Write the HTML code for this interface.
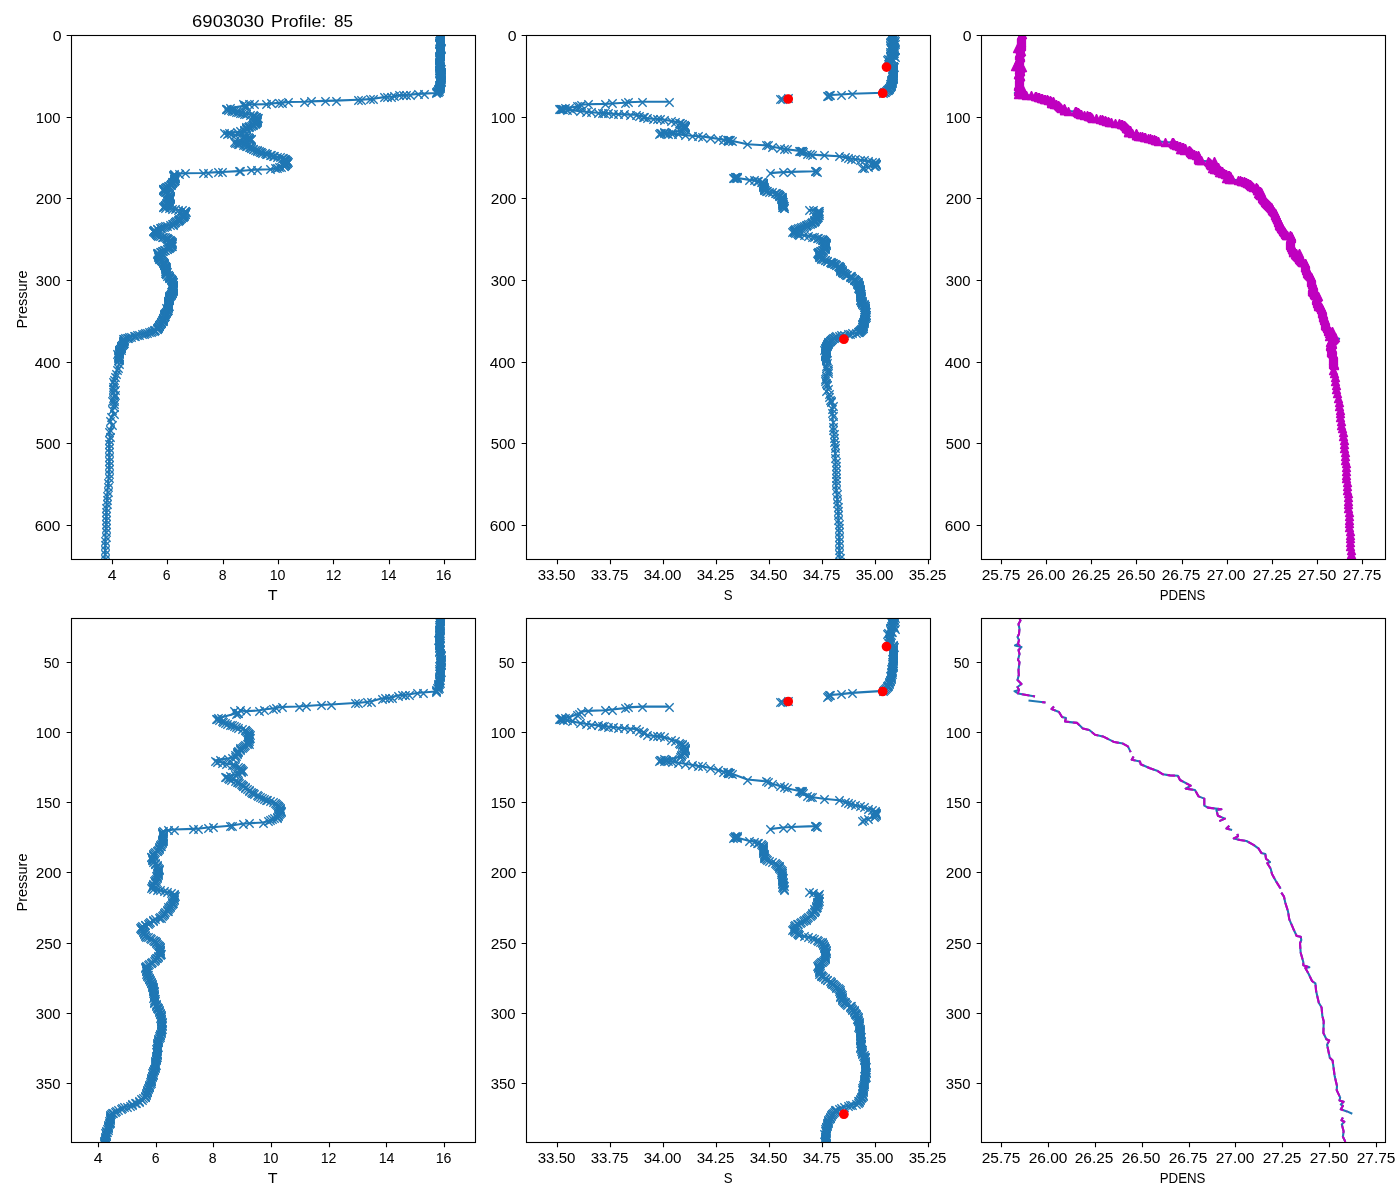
<!DOCTYPE html>
<html><head><meta charset="utf-8"><title>6903030 Profile: 85</title>
<style>html,body{margin:0;padding:0;background:#fff}body{width:1400px;height:1200px;overflow:hidden;font-family:"Liberation Sans",sans-serif}svg{display:block}</style></head>
<body>
<svg width="1400" height="1200" viewBox="0 0 1400 1200" font-family="'Liberation Sans', sans-serif" fill="#000">
<defs>
<marker id="mx" markerUnits="userSpaceOnUse" markerWidth="14" markerHeight="14" refX="7" refY="7" orient="0"><path d="M2.83,2.83L11.17,11.17M2.83,11.17L11.17,2.83" stroke="#1f77b4" stroke-width="1.39" fill="none"/></marker>
<marker id="mt" markerUnits="userSpaceOnUse" markerWidth="14" markerHeight="14" refX="7" refY="7" orient="0"><path d="M7,2.83L11.17,11.17L2.83,11.17Z" stroke="#bf00bf" stroke-width="1.2" fill="#bf00bf" stroke-linejoin="bevel"/></marker>
<clipPath id="kr1c1"><rect x="71.5" y="35.5" width="404.0" height="524.0"/></clipPath>
<clipPath id="kr2c1"><rect x="71.5" y="618.5" width="404.0" height="524.0"/></clipPath>
<clipPath id="kr1c2"><rect x="526.5" y="35.5" width="404.0" height="524.0"/></clipPath>
<clipPath id="kr2c2"><rect x="526.5" y="618.5" width="404.0" height="524.0"/></clipPath>
<clipPath id="kr1c3"><rect x="981.5" y="35.5" width="404.0" height="524.0"/></clipPath>
<clipPath id="kr2c3"><rect x="981.5" y="618.5" width="404.0" height="524.0"/></clipPath>
</defs>
<rect width="1400" height="1200" fill="#fff"/>
<g clip-path="url(#kr1c1)">
<polyline fill="none" stroke="#1f77b4" stroke-width="2.08" stroke-linejoin="round" points="439.6,34.2 439.5,34.7 439.8,35.2 439.5,35.7 439.5,36.2 439.2,36.7 439.6,37.2 440.2,37.7 439.9,38.2 440.2,38.7 439.8,39.2 439.9,39.7 439.8,40.2 439.0,40.7 440.2,41.2 440.0,41.7 440.0,42.2 439.1,42.7 439.1,43.2 439.5,43.7 439.7,44.2 440.0,44.7 439.9,45.2 440.2,45.7 439.7,46.2 440.1,46.7 440.2,47.2 439.7,47.7 440.8,48.2 440.3,48.7 440.6,49.2 439.8,49.7 439.8,50.2 440.0,50.2 440.1,50.7 440.4,51.2 440.2,51.7 439.8,52.2 439.6,52.6 439.7,53.1 440.4,53.6 439.5,54.1 439.9,54.6 440.0,55.0 439.1,55.5 439.7,56.0 440.3,56.5 438.8,57.0 439.5,57.4 439.5,57.9 439.2,58.4 439.7,58.9 439.4,59.4 438.8,59.9 439.8,60.3 439.6,60.8 439.7,61.3 439.9,61.8 439.4,62.3 439.3,62.7 438.7,63.2 439.6,63.7 439.1,64.2 439.2,64.7 438.9,65.2 439.1,65.6 439.4,66.1 440.3,66.6 438.8,67.1 439.2,67.6 440.0,68.1 440.6,68.6 440.2,69.0 439.2,69.5 439.1,70.0 440.3,70.5 439.9,71.0 439.8,71.5 440.8,72.0 440.9,72.4 440.5,72.9 440.6,73.4 440.8,73.9 441.4,74.4 440.9,74.9 440.8,75.3 440.8,75.8 439.8,76.3 441.0,76.8 440.8,77.3 440.6,77.8 439.4,78.3 440.0,78.7 440.6,79.2 439.4,79.7 440.1,80.2 440.6,80.7 439.5,81.2 440.8,81.7 440.2,82.1 439.9,82.6 440.1,83.1 440.2,83.6 439.9,84.1 440.3,84.6 439.5,85.0 439.5,85.5 440.1,86.0 439.6,86.5 439.0,86.9 439.7,87.4 439.8,87.9 438.8,88.3 438.2,88.8 438.6,89.3 438.5,89.7 438.3,90.2 438.9,90.7 437.4,91.1 438.1,91.5 436.6,92.0 436.5,92.4 435.8,93.0 423.9,93.6 418.1,93.9 409.9,94.7 406.1,95.0 403.2,95.0 399.4,95.3 393.6,96.5 390.7,96.8 386.9,96.8 384.0,97.1 373.5,98.8 369.6,99.1 361.0,99.7 358.1,99.7 335.6,100.6 325.5,100.9 311.1,101.4 304.4,101.7 288.1,102.0 282.3,102.6 279.4,102.9 270.8,103.5 266.0,104.1 253.5,104.5 248.5,103.9 246.0,105.8 246.3,105.6 245.2,105.5 243.0,104.2 243.9,105.8 230.0,108.1 227.4,108.7 225.7,108.9 225.5,109.2 227.6,109.5 230.6,110.2 232.3,110.7 234.1,111.2 235.9,111.7 238.3,112.2 240.4,112.6 242.0,113.1 244.3,113.5 246.1,114.0 250.1,114.5 252.7,115.1 253.2,115.6 253.9,116.0 254.9,116.5 256.1,117.0 256.3,117.4 256.8,117.9 257.6,118.4 256.0,118.8 256.7,119.3 257.5,119.8 257.3,120.3 256.9,120.8 256.4,121.3 256.6,121.8 256.1,122.3 255.5,122.8 256.4,123.3 254.6,123.7 253.3,124.2 252.5,124.7 251.5,125.1 250.6,125.6 248.7,126.1 248.5,126.5 248.2,127.0 246.3,127.5 245.8,127.9 246.0,128.4 245.6,128.9 245.6,129.4 243.8,129.9 244.1,130.3 243.8,130.8 240.4,131.4 236.7,132.0 229.0,132.6 224.3,133.2 226.5,133.7 230.8,134.3 234.6,134.9 240.2,135.5 242.5,135.9 243.9,136.4 245.9,136.8 248.1,137.2 248.6,137.7 249.2,138.1 250.6,138.5 251.1,139.0 249.2,139.4 248.9,139.9 246.1,140.4 245.7,140.8 243.8,141.3 238.7,141.9 233.7,142.5 235.2,142.9 237.0,143.3 237.7,143.8 239.4,144.2 243.3,144.8 245.4,145.4 246.4,145.8 247.1,146.3 249.3,146.8 250.0,147.2 251.3,147.7 251.3,148.2 252.8,148.7 253.4,149.2 255.3,149.7 256.8,150.2 256.7,150.8 258.9,151.3 259.7,151.8 260.9,152.3 261.8,152.8 265.0,153.3 266.0,153.8 267.4,154.3 269.5,154.8 271.2,155.3 273.4,155.9 274.4,156.4 277.5,156.9 279.7,157.4 281.8,157.9 283.2,158.5 283.5,158.9 284.9,159.4 285.1,159.9 285.7,160.4 286.9,160.8 286.8,161.3 286.5,161.8 287.9,162.3 286.7,162.8 287.2,163.3 286.4,163.8 285.4,164.3 285.1,164.8 284.8,165.3 283.9,165.8 283.9,166.3 281.1,166.8 279.4,167.3 277.5,167.9 275.4,168.4 270.3,169.2 257.1,169.6 250.7,170.0 240.1,171.0 238.7,171.1 221.9,172.0 217.6,172.1 207.8,172.8 203.3,173.0 184.7,173.3 179.0,173.8 174.3,174.3 173.2,174.8 173.6,175.3 173.4,175.8 174.8,176.3 173.9,176.8 174.6,177.3 174.6,177.8 174.8,178.3 174.3,178.8 174.4,179.3 174.8,179.8 173.7,180.2 173.6,180.7 173.5,181.2 172.7,181.7 171.9,182.2 171.9,182.6 172.4,183.1 170.9,183.6 170.6,184.1 170.5,184.6 169.7,185.1 168.6,185.6 168.2,186.1 167.2,186.6 165.8,187.1 164.9,187.5 164.6,188.0 164.5,188.5 163.1,189.0 163.2,189.5 163.5,189.9 163.4,190.3 164.2,190.8 164.4,191.3 165.7,191.7 165.2,192.2 166.9,192.7 167.1,193.2 167.1,193.7 168.9,194.1 169.1,194.6 168.8,195.1 170.0,195.6 170.4,196.1 169.8,196.6 170.2,197.1 170.0,197.6 169.8,198.1 169.4,198.6 169.7,199.1 169.2,199.6 168.9,200.1 167.6,200.6 168.7,201.1 168.7,201.6 167.6,202.1 167.1,202.5 167.7,203.0 165.7,203.5 166.2,203.9 166.6,204.4 164.8,204.9 165.1,205.3 165.2,205.8 163.9,206.2 163.4,206.7 162.8,207.2 165.1,207.7 168.6,208.2 171.9,208.7 175.2,209.2 178.5,209.8 182.1,210.3 185.3,210.9 185.4,211.4 185.7,211.9 185.1,212.4 184.5,212.9 184.3,213.3 185.4,213.8 184.7,214.3 184.2,214.8 182.7,215.3 183.8,215.8 183.2,216.3 183.2,216.7 182.1,217.2 181.3,217.7 181.0,218.1 179.4,218.6 180.2,219.1 179.3,219.5 178.3,220.0 178.7,220.4 178.1,221.0 175.9,221.5 175.4,222.0 175.0,222.5 174.1,223.0 173.0,223.5 172.0,224.0 172.5,224.5 170.1,225.1 167.1,225.6 165.1,226.1 164.4,226.7 162.1,227.2 161.2,227.7 159.5,228.1 157.5,228.6 156.7,229.1 154.4,229.6 153.7,230.0 152.8,230.5 153.5,231.0 153.4,231.4 154.1,231.9 154.8,232.4 155.2,232.8 155.8,233.3 156.0,233.8 156.2,234.2 157.2,234.7 157.3,235.2 158.4,235.6 160.0,236.1 161.8,236.5 163.2,237.0 164.8,237.5 166.2,237.9 167.0,238.4 167.5,238.9 167.7,239.4 169.1,239.9 170.0,240.3 170.4,240.8 170.8,241.3 171.8,241.8 171.2,242.3 170.7,242.7 171.6,243.2 171.2,243.7 171.9,244.1 171.1,244.6 170.6,245.1 171.1,245.5 172.3,246.0 171.4,246.5 170.0,246.9 169.4,247.4 169.0,247.9 168.0,248.4 166.9,248.8 166.6,249.3 165.3,249.8 163.9,250.2 163.0,250.7 162.4,251.2 161.0,251.6 159.9,252.1 157.9,252.6 157.2,253.0 157.7,253.5 157.4,254.0 158.1,254.4 158.1,254.9 158.3,255.4 157.9,255.8 159.1,256.3 158.8,256.8 158.3,257.2 158.6,257.7 159.9,258.2 159.2,258.6 160.2,259.1 160.7,259.6 160.7,260.0 160.6,260.5 161.6,261.0 162.1,261.4 162.8,261.9 163.1,262.3 163.1,262.8 163.7,263.3 163.9,263.7 164.0,264.2 164.3,264.7 164.4,265.1 165.1,265.6 164.7,266.1 165.2,266.5 165.7,267.0 165.1,267.5 165.5,268.0 164.8,268.5 165.4,269.0 166.0,269.5 166.0,270.0 165.7,270.5 165.6,270.9 165.1,271.4 166.5,271.9 166.0,272.4 166.2,272.9 165.3,273.4 166.1,273.9 165.9,274.4 167.5,274.9 168.1,275.4 167.3,275.9 168.6,276.5 169.4,277.0 168.8,277.5 169.2,278.0 170.1,278.5 170.7,279.0 170.5,279.5 171.3,280.0 171.6,280.4 171.9,280.9 172.1,281.4 172.6,281.9 172.6,282.4 171.7,282.8 172.2,283.3 172.1,283.8 172.2,284.3 172.8,284.8 173.0,285.2 173.4,285.7 172.6,286.2 172.7,286.7 173.2,287.2 173.0,287.7 172.9,288.2 172.9,288.7 172.5,289.2 173.1,289.7 172.9,290.1 172.6,290.6 172.3,291.1 172.4,291.6 171.5,292.1 171.9,292.6 172.0,293.1 170.9,293.6 171.2,294.1 170.8,294.6 169.7,295.2 169.8,295.7 169.4,296.2 169.3,296.7 169.3,297.2 169.0,297.7 168.6,298.2 168.8,298.7 168.8,299.2 169.1,299.7 168.9,300.2 168.4,300.7 168.1,301.2 168.4,301.7 168.2,302.2 168.0,302.7 168.4,303.2 168.2,303.7 168.3,304.2 168.4,304.7 167.8,305.1 168.9,305.6 167.6,306.1 168.1,306.6 167.5,307.1 167.9,307.6 166.2,308.1 166.8,308.6 167.1,309.1 167.1,309.6 167.7,310.1 166.6,310.6 166.8,311.1 166.4,311.5 166.2,312.0 165.8,312.5 165.3,313.0 165.4,313.5 164.4,314.0 165.2,314.5 164.0,315.0 164.4,315.5 165.0,316.0 163.7,316.5 163.6,317.0 163.9,317.5 163.2,317.9 162.6,318.4 162.8,318.9 162.7,319.4 162.6,319.9 161.7,320.4 162.6,320.9 162.3,321.4 161.4,321.9 161.3,322.4 160.7,322.9 161.3,323.4 160.0,323.8 160.3,324.3 159.5,324.8 159.1,325.3 159.4,325.8 159.3,326.3 158.4,326.7 157.8,327.2 158.2,327.7 157.5,328.2 157.3,328.7 156.8,329.2 155.5,329.7 153.7,330.2 153.8,330.7 151.7,331.3 150.9,331.8 148.5,332.2 147.0,332.7 144.5,333.1 144.3,333.6 142.4,334.1 139.5,334.5 137.2,335.0 135.1,335.5 134.2,336.0 131.4,336.5 129.4,337.0 128.0,337.5 126.8,338.0 125.0,338.5 124.2,339.0 123.4,339.5 123.9,340.0 123.9,340.4 123.9,340.9 123.5,341.4 123.0,341.9 123.4,342.4 123.0,342.9 123.8,343.3 123.3,343.8 122.6,344.3 122.2,344.8 121.8,345.3 121.4,345.7 121.4,346.2 121.5,346.7 121.3,347.2 121.0,347.6 121.5,348.1 119.9,348.6 120.1,349.1 120.9,349.5 118.9,350.0 119.3,350.5 119.5,351.0 119.3,351.4 119.3,351.9 118.8,352.4 118.9,352.9 118.6,353.3 118.7,353.8 117.4,354.3 118.0,354.9 118.6,355.5 118.1,356.0 118.1,356.5 118.8,357.0 118.2,357.5 118.8,358.1 118.8,358.6 118.6,359.1 118.6,359.6 118.4,360.1 118.8,364.0 117.7,367.5 117.1,370.0 115.7,373.5 114.9,376.7 113.8,380.4 112.6,382.4 114.0,384.1 113.5,386.9 112.8,388.8 114.9,390.0 113.4,392.3 114.5,394.6 114.0,396.0 113.3,398.4 111.9,401.4 114.0,401.3 113.9,404.4 113.7,406.7 111.7,410.2 113.6,413.7 111.0,416.6 110.2,421.2 111.9,424.7 110.4,429.9 109.5,432.0 109.9,436.9 109.2,440.1 108.9,443.8 109.0,448.0 109.1,452.3 109.2,456.5 109.1,460.8 109.0,465.1 109.0,469.5 108.9,473.8 108.5,478.4 108.2,482.9 107.8,487.5 107.5,491.5 107.2,495.5 106.9,499.5 106.6,503.5 106.5,507.5 106.3,511.5 106.2,515.5 106.1,519.5 105.9,523.8 105.8,528.0 105.7,532.2 105.5,536.5 105.3,540.9 105.2,545.3 105.0,549.7 104.9,554.1 104.7,558.5 104.6,562.5 104.5,566.5"/><polyline fill="none" stroke="none" marker-start="url(#mx)" marker-mid="url(#mx)" marker-end="url(#mx)" points="440.5,34.5 439.5,35.5 440.5,35.5 440.5,36.5 439.5,36.5 439.5,37.5 440.5,37.5 440.5,38.5 440.5,38.5 440.5,39.5 440.5,39.5 440.5,40.5 440.5,40.5 439.5,41.5 440.5,41.5 440.5,42.5 440.5,42.5 439.5,43.5 439.5,43.5 439.5,44.5 440.5,44.5 440.5,45.5 440.5,45.5 440.5,46.5 440.5,46.5 440.5,47.5 440.5,47.5 440.5,48.5 441.5,48.5 440.5,49.5 441.5,49.5 440.5,50.5 440.5,50.5 440.5,50.5 440.5,51.5 440.5,51.5 440.5,52.5 440.5,52.5 440.5,53.5 440.5,53.5 440.5,54.5 440.5,54.5 440.5,55.5 440.5,55.5 439.5,56.5 440.5,56.5 440.5,56.5 439.5,57.5 439.5,57.5 440.5,58.5 439.5,58.5 440.5,59.5 439.5,59.5 439.5,60.5 440.5,60.5 440.5,61.5 440.5,61.5 440.5,62.5 439.5,62.5 439.5,63.5 439.5,63.5 440.5,64.5 439.5,64.5 439.5,65.5 439.5,65.5 439.5,66.5 439.5,66.5 440.5,67.5 439.5,67.5 439.5,68.5 440.5,68.5 441.5,69.5 440.5,69.5 439.5,70.5 439.5,70.5 440.5,70.5 440.5,71.5 440.5,71.5 441.5,72.5 441.5,72.5 441.5,73.5 441.5,73.5 441.5,74.5 441.5,74.5 441.5,75.5 441.5,75.5 441.5,76.5 440.5,76.5 441.5,77.5 441.5,77.5 441.5,78.5 439.5,78.5 440.5,79.5 441.5,79.5 439.5,80.5 440.5,80.5 441.5,81.5 439.5,81.5 441.5,82.5 440.5,82.5 440.5,83.5 440.5,83.5 440.5,84.5 440.5,84.5 440.5,85.5 439.5,85.5 440.5,86.5 440.5,86.5 440.5,86.5 439.5,87.5 440.5,87.5 440.5,88.5 439.5,88.5 438.5,89.5 439.5,89.5 438.5,90.5 438.5,90.5 439.5,91.5 437.5,91.5 438.5,92.5 437.5,92.5 436.5,92.5 436.5,93.5 424.5,94.5 418.5,94.5 410.5,95.5 406.5,95.5 403.5,95.5 399.5,95.5 394.5,96.5 391.5,97.5 387.5,97.5 384.5,97.5 373.5,99.5 370.5,99.5 361.5,100.5 358.5,100.5 336.5,101.5 325.5,101.5 311.5,101.5 304.5,102.5 288.5,102.5 282.5,103.5 279.5,103.5 271.5,103.5 266.5,104.5 254.5,104.5 249.5,104.5 246.5,106.5 246.5,106.5 245.5,105.5 243.5,104.5 244.5,106.5 230.5,108.5 227.5,109.5 226.5,109.5 226.5,109.5 228.5,110.5 231.5,110.5 232.5,111.5 234.5,111.5 236.5,112.5 238.5,112.5 240.5,113.5 242.5,113.5 244.5,114.5 246.5,114.5 250.5,115.5 253.5,115.5 253.5,116.5 254.5,116.5 255.5,117.5 256.5,117.5 256.5,117.5 257.5,118.5 258.5,118.5 256.5,119.5 257.5,119.5 257.5,120.5 257.5,120.5 257.5,121.5 256.5,121.5 257.5,122.5 256.5,122.5 255.5,123.5 256.5,123.5 255.5,124.5 253.5,124.5 253.5,125.5 252.5,125.5 251.5,126.5 249.5,126.5 249.5,127.5 248.5,127.5 246.5,127.5 246.5,128.5 246.5,128.5 246.5,129.5 246.5,129.5 244.5,130.5 244.5,130.5 244.5,131.5 240.5,131.5 237.5,132.5 229.5,133.5 224.5,133.5 227.5,134.5 231.5,134.5 235.5,135.5 240.5,135.5 243.5,136.5 244.5,136.5 246.5,137.5 248.5,137.5 249.5,138.5 249.5,138.5 251.5,139.5 251.5,139.5 249.5,139.5 249.5,140.5 246.5,140.5 246.5,141.5 244.5,141.5 239.5,142.5 234.5,142.5 235.5,143.5 237.5,143.5 238.5,144.5 239.5,144.5 243.5,145.5 245.5,145.5 246.5,146.5 247.5,146.5 249.5,147.5 250.5,147.5 251.5,148.5 251.5,148.5 253.5,149.5 253.5,149.5 255.5,150.5 257.5,150.5 257.5,151.5 259.5,151.5 260.5,152.5 261.5,152.5 262.5,153.5 265.5,153.5 266.5,154.5 267.5,154.5 270.5,155.5 271.5,155.5 273.5,156.5 274.5,156.5 277.5,157.5 280.5,157.5 282.5,158.5 283.5,158.5 284.5,159.5 285.5,159.5 285.5,160.5 286.5,160.5 287.5,161.5 287.5,161.5 286.5,162.5 288.5,162.5 287.5,163.5 287.5,163.5 286.5,164.5 285.5,164.5 285.5,165.5 285.5,165.5 284.5,166.5 284.5,166.5 281.5,167.5 279.5,167.5 277.5,168.5 275.5,168.5 270.5,169.5 257.5,170.5 251.5,170.5 240.5,171.5 239.5,171.5 222.5,172.5 218.5,172.5 208.5,173.5 203.5,173.5 185.5,173.5 179.5,174.5 174.5,174.5 173.5,175.5 174.5,175.5 173.5,176.5 175.5,176.5 174.5,177.5 175.5,177.5 175.5,178.5 175.5,178.5 174.5,179.5 174.5,179.5 175.5,180.5 174.5,180.5 174.5,181.5 174.5,181.5 173.5,182.5 172.5,182.5 172.5,183.5 172.5,183.5 171.5,184.5 171.5,184.5 171.5,185.5 170.5,185.5 169.5,186.5 168.5,186.5 167.5,187.5 166.5,187.5 165.5,188.5 165.5,188.5 164.5,189.5 163.5,189.5 163.5,189.5 163.5,190.5 163.5,190.5 164.5,191.5 164.5,191.5 166.5,192.5 165.5,192.5 167.5,193.5 167.5,193.5 167.5,194.5 169.5,194.5 169.5,195.5 169.5,195.5 170.5,196.5 170.5,196.5 170.5,197.5 170.5,197.5 170.5,198.5 170.5,198.5 169.5,199.5 170.5,199.5 169.5,200.5 169.5,200.5 168.5,201.5 169.5,201.5 169.5,202.5 168.5,202.5 167.5,203.5 168.5,203.5 166.5,203.5 166.5,204.5 167.5,204.5 165.5,205.5 165.5,205.5 165.5,206.5 164.5,206.5 163.5,207.5 163.5,207.5 165.5,208.5 169.5,208.5 172.5,209.5 175.5,209.5 178.5,210.5 182.5,210.5 185.5,211.5 185.5,211.5 186.5,212.5 185.5,212.5 184.5,213.5 184.5,213.5 185.5,214.5 185.5,214.5 184.5,215.5 183.5,215.5 184.5,216.5 183.5,216.5 183.5,217.5 182.5,217.5 181.5,218.5 181.5,218.5 179.5,219.5 180.5,219.5 179.5,220.5 178.5,220.5 179.5,220.5 178.5,221.5 176.5,221.5 175.5,222.5 175.5,222.5 174.5,223.5 173.5,224.5 172.5,224.5 173.5,225.5 170.5,225.5 167.5,226.5 165.5,226.5 164.5,227.5 162.5,227.5 161.5,228.5 160.5,228.5 157.5,229.5 157.5,229.5 154.5,230.5 154.5,230.5 153.5,231.5 153.5,231.5 153.5,231.5 154.5,232.5 155.5,232.5 155.5,233.5 156.5,233.5 156.5,234.5 156.5,234.5 157.5,235.5 157.5,235.5 158.5,236.5 160.5,236.5 162.5,237.5 163.5,237.5 165.5,237.5 166.5,238.5 167.5,238.5 167.5,239.5 168.5,239.5 169.5,240.5 170.5,240.5 170.5,241.5 171.5,241.5 172.5,242.5 171.5,242.5 171.5,243.5 172.5,243.5 171.5,244.5 172.5,244.5 171.5,245.5 171.5,245.5 171.5,246.5 172.5,246.5 171.5,246.5 170.5,247.5 169.5,247.5 169.5,248.5 168.5,248.5 167.5,249.5 167.5,249.5 165.5,250.5 164.5,250.5 163.5,251.5 162.5,251.5 161.5,252.5 160.5,252.5 158.5,253.5 157.5,253.5 158.5,254.5 157.5,254.5 158.5,254.5 158.5,255.5 158.5,255.5 158.5,256.5 159.5,256.5 159.5,257.5 158.5,257.5 159.5,258.5 160.5,258.5 159.5,259.5 160.5,259.5 161.5,260.5 161.5,260.5 161.5,260.5 162.5,261.5 162.5,261.5 163.5,262.5 163.5,262.5 163.5,263.5 164.5,263.5 164.5,264.5 164.5,264.5 164.5,265.5 164.5,265.5 165.5,266.5 165.5,266.5 165.5,267.5 166.5,267.5 165.5,267.5 166.5,268.5 165.5,268.5 165.5,269.5 166.5,269.5 166.5,270.5 166.5,270.5 166.5,271.5 165.5,271.5 167.5,272.5 166.5,272.5 166.5,273.5 165.5,273.5 166.5,274.5 166.5,274.5 168.5,275.5 168.5,275.5 167.5,276.5 169.5,276.5 169.5,277.5 169.5,277.5 169.5,278.5 170.5,278.5 171.5,279.5 171.5,279.5 171.5,280.5 172.5,280.5 172.5,281.5 172.5,281.5 173.5,282.5 173.5,282.5 172.5,283.5 172.5,283.5 172.5,284.5 172.5,284.5 173.5,285.5 173.5,285.5 173.5,286.5 173.5,286.5 173.5,287.5 173.5,287.5 173.5,288.5 173.5,288.5 173.5,289.5 173.5,289.5 173.5,290.5 173.5,290.5 173.5,291.5 172.5,291.5 172.5,292.5 171.5,292.5 172.5,293.5 172.5,293.5 171.5,294.5 171.5,294.5 171.5,295.5 170.5,295.5 170.5,296.5 169.5,296.5 169.5,297.5 169.5,297.5 169.5,298.5 169.5,298.5 169.5,299.5 169.5,299.5 169.5,300.5 169.5,300.5 168.5,301.5 168.5,301.5 168.5,302.5 168.5,302.5 168.5,303.5 168.5,303.5 168.5,304.5 168.5,304.5 168.5,305.5 168.5,305.5 169.5,306.5 168.5,306.5 168.5,307.5 168.5,307.5 168.5,308.5 166.5,308.5 167.5,309.5 167.5,309.5 167.5,310.5 168.5,310.5 167.5,311.5 167.5,311.5 166.5,312.5 166.5,312.5 166.5,313.5 165.5,313.5 165.5,314.5 164.5,314.5 165.5,314.5 164.5,315.5 164.5,315.5 165.5,316.5 164.5,316.5 164.5,317.5 164.5,317.5 163.5,318.5 163.5,318.5 163.5,319.5 163.5,319.5 163.5,320.5 162.5,320.5 163.5,321.5 162.5,321.5 161.5,322.5 161.5,322.5 161.5,323.5 161.5,323.5 160.5,324.5 160.5,324.5 159.5,325.5 159.5,325.5 159.5,326.5 159.5,326.5 158.5,327.5 158.5,327.5 158.5,328.5 157.5,328.5 157.5,329.5 157.5,329.5 155.5,330.5 154.5,330.5 154.5,331.5 152.5,331.5 151.5,332.5 149.5,332.5 147.5,333.5 145.5,333.5 144.5,334.5 142.5,334.5 139.5,335.5 137.5,335.5 135.5,336.5 134.5,336.5 131.5,337.5 129.5,337.5 128.5,338.5 127.5,338.5 125.5,338.5 124.5,339.5 123.5,339.5 124.5,340.5 124.5,340.5 124.5,341.5 123.5,341.5 123.5,342.5 123.5,342.5 123.5,343.5 124.5,343.5 123.5,344.5 123.5,344.5 122.5,345.5 122.5,345.5 121.5,346.5 121.5,346.5 121.5,347.5 121.5,347.5 121.5,348.5 121.5,348.5 120.5,349.5 120.5,349.5 121.5,350.5 119.5,350.5 119.5,350.5 119.5,351.5 119.5,351.5 119.5,352.5 119.5,352.5 119.5,353.5 119.5,353.5 119.5,354.5 117.5,354.5 118.5,355.5 119.5,356.5 118.5,356.5 118.5,357.5 119.5,357.5 118.5,358.5 119.5,358.5 119.5,359.5 119.5,359.5 119.5,360.5 118.5,360.5 119.5,364.5 118.5,368.5 117.5,370.5 116.5,374.5 115.5,377.5 114.5,380.5 113.5,382.5 114.5,384.5 113.5,387.5 113.5,389.5 115.5,390.5 113.5,392.5 115.5,395.5 114.5,396.5 113.5,398.5 112.5,401.5 114.5,401.5 114.5,404.5 114.5,407.5 112.5,410.5 114.5,414.5 111.5,417.5 110.5,421.5 112.5,425.5 110.5,430.5 109.5,432.5 110.5,437.5 109.5,440.5 109.5,444.5 109.5,448.5 109.5,452.5 109.5,457.5 109.5,461.5 109.5,465.5 109.5,469.5 109.5,474.5 109.5,478.5 108.5,483.5 108.5,487.5 108.5,492.5 107.5,496.5 107.5,500.5 107.5,504.5 106.5,508.5 106.5,512.5 106.5,516.5 106.5,520.5 106.5,524.5 106.5,528.5 106.5,532.5 106.5,537.5 105.5,541.5 105.5,545.5 105.5,550.5 105.5,554.5 105.5,559.5 105.5,563.5 105.5,567.5"/>
</g>
<g clip-path="url(#kr2c1)">
<polyline fill="none" stroke="#1f77b4" stroke-width="2.08" stroke-linejoin="round" points="439.4,590.4 439.3,591.3 439.7,592.1 439.3,593.0 439.3,593.9 439.0,594.7 439.4,595.6 440.0,596.4 439.7,597.3 440.0,598.1 439.7,599.0 439.7,599.9 439.7,600.7 438.8,601.6 440.0,602.4 439.9,603.3 439.9,604.2 438.9,605.0 438.9,605.9 439.3,606.7 439.5,607.6 439.9,608.5 439.7,609.3 440.0,610.2 439.5,611.0 440.0,611.9 440.0,612.8 439.6,613.6 440.7,614.5 440.2,615.3 440.5,616.2 439.7,617.1 439.6,617.9 439.8,618.0 439.9,618.8 440.2,619.7 440.0,620.5 439.6,621.3 439.4,622.1 439.5,623.0 440.3,623.8 439.3,624.6 439.8,625.4 439.8,626.3 438.9,627.1 439.6,627.9 440.1,628.8 438.5,629.6 439.3,630.4 439.3,631.2 439.0,632.1 439.5,632.9 439.2,633.7 438.6,634.5 439.6,635.4 439.5,636.2 439.6,637.0 439.7,637.8 439.2,638.7 439.1,639.5 438.5,640.3 439.4,641.2 438.9,642.0 439.0,642.8 438.7,643.7 438.9,644.5 439.2,645.3 440.1,646.2 438.6,647.0 438.9,647.8 439.8,648.7 440.4,649.5 440.1,650.3 439.0,651.2 438.9,652.0 440.2,652.8 439.7,653.7 439.6,654.5 440.6,655.3 440.8,656.2 440.4,657.0 440.5,657.8 440.6,658.7 441.2,659.5 440.7,660.3 440.7,661.2 440.6,662.0 439.6,662.8 440.9,663.7 440.7,664.5 440.5,665.3 439.3,666.2 439.8,667.0 440.5,667.8 439.2,668.7 439.9,669.5 440.4,670.3 439.3,671.2 440.6,672.0 440.1,672.8 439.7,673.7 439.9,674.5 440.0,675.3 439.7,676.2 440.2,677.0 439.3,677.8 439.3,678.7 440.0,679.5 439.4,680.3 438.8,681.1 439.5,681.9 439.6,682.7 438.5,683.5 438.0,684.3 438.4,685.1 438.2,685.9 438.0,686.7 438.7,687.5 437.1,688.2 437.8,689.0 436.3,689.8 436.1,690.5 435.5,691.5 423.0,692.5 417.0,693.0 408.5,694.5 404.5,695.0 401.5,695.0 397.5,695.5 391.5,697.5 388.5,698.0 384.5,698.0 381.5,698.5 370.5,701.5 366.5,702.0 357.5,703.0 354.5,703.0 331.0,704.5 320.5,705.0 305.5,706.0 298.5,706.5 281.5,707.0 275.5,708.0 272.5,708.5 263.5,709.5 258.5,710.5 245.5,711.2 240.3,710.3 237.6,713.5 237.9,713.1 236.8,712.9 234.5,710.8 235.5,713.5 221.0,717.5 218.3,718.4 216.5,718.8 216.3,719.4 218.5,719.9 221.6,721.0 223.3,721.9 225.3,722.8 227.2,723.6 229.6,724.5 231.8,725.2 233.5,726.0 235.9,726.8 237.8,727.5 241.9,728.5 244.7,729.5 245.1,730.3 245.9,731.1 246.9,731.9 248.1,732.7 248.3,733.5 248.9,734.3 249.8,735.1 248.1,735.9 248.8,736.7 249.6,737.5 249.4,738.4 249.0,739.2 248.4,740.1 248.7,740.9 248.2,741.8 247.5,742.6 248.5,743.5 246.7,744.3 245.2,745.1 244.5,745.9 243.4,746.7 242.5,747.5 240.5,748.3 240.3,749.1 240.0,749.9 238.0,750.7 237.5,751.5 237.6,752.3 237.2,753.2 237.2,754.0 235.4,754.8 235.7,755.7 235.3,756.5 231.8,757.5 228.0,758.5 220.0,759.5 215.0,760.5 217.3,761.5 221.8,762.5 225.8,763.5 231.6,764.5 234.1,765.2 235.4,766.0 237.6,766.8 239.9,767.5 240.3,768.2 241.0,769.0 242.5,769.8 243.0,770.5 241.0,771.3 240.7,772.1 237.8,772.9 237.3,773.7 235.4,774.5 230.1,775.5 224.8,776.5 226.4,777.2 228.3,778.0 229.0,778.8 230.8,779.5 234.8,780.5 237.1,781.5 238.0,782.3 238.8,783.1 241.1,783.9 241.8,784.7 243.2,785.5 243.2,786.4 244.8,787.2 245.3,788.1 247.4,789.0 248.9,789.9 248.8,790.8 251.1,791.6 252.0,792.5 253.2,793.4 254.1,794.2 257.4,795.1 258.5,796.0 260.0,796.9 262.2,797.8 263.9,798.6 266.2,799.5 267.2,800.4 270.4,801.3 272.8,802.2 275.0,803.1 276.4,804.0 276.8,804.8 278.2,805.6 278.4,806.4 279.1,807.2 280.3,808.1 280.1,808.9 279.9,809.7 281.3,810.5 280.0,811.4 280.6,812.2 279.8,813.1 278.7,814.0 278.4,814.9 278.1,815.8 277.2,816.6 277.1,817.5 274.2,818.4 272.5,819.2 270.4,820.1 268.2,821.0 263.0,822.5 249.2,823.2 242.5,823.8 231.5,825.5 230.0,825.7 212.5,827.2 208.1,827.5 197.8,828.7 193.2,828.9 173.8,829.5 167.8,830.4 162.9,831.2 161.8,832.1 162.2,832.9 162.0,833.8 163.5,834.7 162.6,835.5 163.2,836.4 163.3,837.2 163.5,838.1 162.9,838.9 163.0,839.8 163.4,840.6 162.3,841.4 162.2,842.2 162.1,843.1 161.2,843.9 160.4,844.7 160.5,845.5 160.9,846.4 159.3,847.2 159.0,848.0 159.0,848.9 158.1,849.7 157.0,850.6 156.6,851.4 155.5,852.3 154.1,853.1 153.1,854.0 152.8,854.8 152.7,855.7 151.2,856.5 151.3,857.2 151.6,858.0 151.5,858.8 152.4,859.5 152.6,860.3 153.9,861.2 153.4,862.0 155.2,862.8 155.4,863.6 155.4,864.5 157.3,865.3 157.5,866.1 157.2,867.0 158.5,867.8 158.8,868.7 158.3,869.5 158.7,870.4 158.4,871.2 158.2,872.1 157.9,873.0 158.1,873.8 157.6,874.7 157.3,875.5 155.9,876.4 157.1,877.2 157.1,878.1 155.9,878.9 155.4,879.7 156.1,880.5 153.9,881.3 154.5,882.1 154.9,882.9 153.0,883.7 153.3,884.5 153.4,885.3 152.0,886.1 151.6,886.9 150.9,887.8 153.3,888.6 157.0,889.5 160.4,890.4 163.9,891.2 167.3,892.2 171.0,893.1 174.4,894.1 174.5,894.9 174.8,895.8 174.2,896.6 173.5,897.5 173.3,898.3 174.5,899.1 173.7,900.0 173.3,900.8 171.7,901.7 172.8,902.5 172.2,903.3 172.2,904.1 171.0,904.9 170.2,905.7 169.9,906.5 168.2,907.3 169.1,908.1 168.2,908.9 167.1,909.7 167.5,910.5 166.9,911.4 164.6,912.2 164.0,913.1 163.6,914.0 162.7,914.9 161.6,915.8 160.5,916.6 161.1,917.5 158.5,918.4 155.4,919.3 153.3,920.3 152.6,921.2 150.3,922.1 149.3,922.9 147.5,923.7 145.4,924.5 144.6,925.4 142.2,926.2 141.5,927.0 140.5,927.8 141.2,928.6 141.1,929.4 141.9,930.2 142.6,931.0 143.0,931.8 143.6,932.6 143.9,933.4 144.1,934.2 145.1,935.0 145.2,935.8 146.4,936.6 148.0,937.4 149.8,938.1 151.3,938.9 153.0,939.7 154.5,940.5 155.3,941.3 155.8,942.2 156.0,943.0 157.5,943.9 158.5,944.7 158.9,945.5 159.3,946.4 160.3,947.2 159.7,948.0 159.2,948.8 160.1,949.6 159.7,950.4 160.4,951.2 159.6,952.0 159.1,952.8 159.6,953.6 160.8,954.4 159.9,955.2 158.5,956.0 157.8,956.8 157.4,957.6 156.4,958.5 155.3,959.3 154.9,960.1 153.5,960.9 152.0,961.7 151.2,962.5 150.5,963.3 149.1,964.1 148.0,964.9 145.8,965.7 145.1,966.5 145.7,967.3 145.3,968.1 146.1,968.9 146.0,969.7 146.3,970.5 145.9,971.3 147.1,972.1 146.8,972.9 146.3,973.7 146.5,974.5 148.0,975.3 147.2,976.1 148.2,976.9 148.7,977.7 148.7,978.5 148.6,979.3 149.7,980.1 150.2,980.9 151.0,981.7 151.3,982.5 151.2,983.3 151.9,984.1 152.1,984.9 152.2,985.7 152.5,986.5 152.6,987.3 153.4,988.1 152.9,988.9 153.4,989.7 154.0,990.5 153.3,991.3 153.8,992.2 153.1,993.0 153.7,993.9 154.3,994.7 154.3,995.6 154.0,996.4 153.9,997.3 153.3,998.1 154.8,999.0 154.2,999.8 154.5,1000.7 153.6,1001.5 154.4,1002.4 154.2,1003.2 155.9,1004.1 156.4,1005.0 155.6,1005.9 157.0,1006.7 157.8,1007.6 157.2,1008.5 157.7,1009.4 158.5,1010.2 159.2,1011.1 159.0,1011.9 159.8,1012.8 160.1,1013.6 160.4,1014.4 160.6,1015.2 161.2,1016.1 161.2,1016.9 160.2,1017.7 160.7,1018.5 160.6,1019.4 160.8,1020.2 161.4,1021.0 161.6,1021.8 162.0,1022.7 161.2,1023.5 161.2,1024.3 161.7,1025.2 161.6,1026.0 161.4,1026.9 161.5,1027.7 161.1,1028.6 161.7,1029.4 161.4,1030.3 161.2,1031.1 160.8,1032.0 161.0,1032.8 160.0,1033.7 160.4,1034.5 160.5,1035.4 159.4,1036.2 159.7,1037.1 159.3,1038.0 158.1,1038.9 158.2,1039.8 157.8,1040.6 157.7,1041.5 157.7,1042.4 157.4,1043.2 157.0,1044.1 157.2,1044.9 157.2,1045.8 157.5,1046.6 157.3,1047.5 156.8,1048.4 156.4,1049.2 156.8,1050.1 156.6,1050.9 156.4,1051.8 156.8,1052.6 156.6,1053.5 156.7,1054.3 156.8,1055.2 156.2,1056.0 157.3,1056.9 156.0,1057.7 156.5,1058.6 155.9,1059.4 156.2,1060.3 154.5,1061.1 155.1,1062.0 155.4,1062.8 155.4,1063.7 156.0,1064.5 154.9,1065.3 155.1,1066.2 154.7,1067.0 154.5,1067.9 154.1,1068.7 153.5,1069.6 153.6,1070.4 152.7,1071.3 153.5,1072.1 152.2,1073.0 152.6,1073.8 153.2,1074.7 151.9,1075.5 151.8,1076.3 152.1,1077.2 151.3,1078.0 150.7,1078.9 151.0,1079.7 150.9,1080.6 150.7,1081.4 149.8,1082.3 150.7,1083.1 150.5,1084.0 149.5,1084.8 149.4,1085.7 148.8,1086.5 149.3,1087.3 148.0,1088.2 148.3,1089.0 147.5,1089.8 147.1,1090.7 147.4,1091.5 147.3,1092.3 146.4,1093.2 145.8,1094.0 146.1,1094.8 145.4,1095.7 145.2,1096.5 144.7,1097.4 143.3,1098.3 141.4,1099.2 141.5,1100.0 139.4,1100.9 138.6,1101.8 136.1,1102.6 134.5,1103.4 131.9,1104.1 131.7,1104.9 129.7,1105.7 126.6,1106.5 124.3,1107.4 122.0,1108.2 121.1,1109.1 118.2,1109.9 116.2,1110.8 114.7,1111.6 113.4,1112.5 111.6,1113.3 110.7,1114.2 109.9,1115.0 110.4,1115.9 110.5,1116.7 110.4,1117.5 109.9,1118.3 109.5,1119.2 109.9,1120.0 109.4,1120.8 110.3,1121.7 109.8,1122.5 109.1,1123.3 108.6,1124.1 108.2,1125.0 107.8,1125.8 107.8,1126.6 107.9,1127.4 107.7,1128.2 107.4,1129.1 107.9,1129.9 106.3,1130.7 106.4,1131.5 107.3,1132.3 105.2,1133.2 105.7,1134.0 105.8,1134.8 105.6,1135.6 105.6,1136.4 105.1,1137.2 105.2,1138.0 104.9,1138.9 105.0,1139.7 103.6,1140.5 104.3,1141.5 104.9,1142.6 104.4,1143.4 104.3,1144.3 105.1,1145.2 104.5,1146.1 105.1,1147.0 105.1,1147.8 104.9,1148.7 104.9,1149.6 104.6,1150.5 105.1,1157.2 103.9,1163.2 103.3,1167.5 101.9,1173.5 101.0,1179.0 99.9,1185.4 98.6,1188.8 100.1,1191.6 99.5,1196.5 98.8,1199.8 101.0,1201.9 99.5,1205.8 100.6,1209.8 100.1,1212.1 99.3,1216.4 97.9,1221.4 100.1,1221.3 100.0,1226.6 99.7,1230.6 97.7,1236.5 99.6,1242.6 96.9,1247.6 96.2,1255.4 97.9,1261.4 96.4,1270.4 95.3,1274.1 95.8,1282.4 95.1,1288.0 94.8,1294.3 94.9,1301.6 95.0,1308.9 95.1,1316.1 95.0,1323.6 94.9,1331.0 94.8,1338.4 94.8,1345.9 94.4,1353.7 94.0,1361.5 93.6,1369.4 93.3,1376.3 93.0,1383.1 92.7,1390.0 92.4,1396.9 92.2,1403.8 92.1,1410.6 92.0,1417.5 91.9,1424.4 91.7,1431.7 91.5,1439.0 91.4,1446.3 91.2,1453.6 91.1,1461.2 90.9,1468.7 90.7,1476.3 90.6,1483.8 90.4,1491.4 90.3,1498.3 90.2,1505.1"/><polyline fill="none" stroke="none" marker-start="url(#mx)" marker-mid="url(#mx)" marker-end="url(#mx)" points="439.5,590.5 439.5,591.5 440.5,592.5 439.5,593.5 439.5,594.5 439.5,595.5 439.5,596.5 440.5,596.5 440.5,597.5 440.5,598.5 440.5,599.5 440.5,600.5 440.5,601.5 439.5,602.5 440.5,602.5 440.5,603.5 440.5,604.5 439.5,605.5 439.5,606.5 439.5,607.5 439.5,608.5 440.5,608.5 440.5,609.5 440.5,610.5 440.5,611.5 440.5,612.5 440.5,613.5 440.5,614.5 441.5,614.5 440.5,615.5 440.5,616.5 440.5,617.5 440.5,618.5 440.5,618.5 440.5,619.5 440.5,620.5 440.5,620.5 440.5,621.5 439.5,622.5 440.5,623.5 440.5,624.5 439.5,625.5 440.5,625.5 440.5,626.5 439.5,627.5 440.5,628.5 440.5,629.5 439.5,630.5 439.5,630.5 439.5,631.5 439.5,632.5 440.5,633.5 439.5,634.5 439.5,635.5 440.5,635.5 439.5,636.5 440.5,637.5 440.5,638.5 439.5,639.5 439.5,640.5 438.5,640.5 439.5,641.5 439.5,642.5 439.5,643.5 439.5,644.5 439.5,645.5 439.5,645.5 440.5,646.5 439.5,647.5 439.5,648.5 440.5,649.5 440.5,650.5 440.5,650.5 439.5,651.5 439.5,652.5 440.5,653.5 440.5,654.5 440.5,655.5 441.5,655.5 441.5,656.5 440.5,657.5 440.5,658.5 441.5,659.5 441.5,660.5 441.5,660.5 441.5,661.5 441.5,662.5 440.5,663.5 441.5,664.5 441.5,665.5 440.5,665.5 439.5,666.5 440.5,667.5 440.5,668.5 439.5,669.5 440.5,670.5 440.5,670.5 439.5,671.5 441.5,672.5 440.5,673.5 440.5,674.5 440.5,675.5 440.5,675.5 440.5,676.5 440.5,677.5 439.5,678.5 439.5,679.5 440.5,680.5 439.5,680.5 439.5,681.5 439.5,682.5 440.5,683.5 439.5,684.5 438.5,684.5 438.5,685.5 438.5,686.5 438.5,687.5 439.5,688.5 437.5,688.5 438.5,689.5 436.5,690.5 436.5,691.5 436.5,692.5 423.5,693.5 417.5,693.5 409.5,695.5 405.5,695.5 402.5,695.5 398.5,696.5 392.5,698.5 389.5,698.5 385.5,698.5 382.5,699.5 371.5,702.5 367.5,702.5 358.5,703.5 355.5,703.5 331.5,705.5 321.5,705.5 306.5,706.5 299.5,707.5 282.5,707.5 276.5,708.5 273.5,709.5 264.5,710.5 259.5,711.5 246.5,711.5 240.5,710.5 238.5,713.5 238.5,713.5 237.5,713.5 234.5,711.5 236.5,714.5 221.5,718.5 218.5,718.5 217.5,719.5 216.5,719.5 219.5,720.5 222.5,721.5 223.5,722.5 225.5,723.5 227.5,724.5 230.5,725.5 232.5,725.5 234.5,726.5 236.5,727.5 238.5,728.5 242.5,729.5 245.5,730.5 245.5,730.5 246.5,731.5 247.5,732.5 248.5,733.5 248.5,734.5 249.5,734.5 250.5,735.5 248.5,736.5 249.5,737.5 250.5,738.5 249.5,738.5 249.5,739.5 248.5,740.5 249.5,741.5 248.5,742.5 248.5,743.5 249.5,744.5 247.5,744.5 245.5,745.5 244.5,746.5 243.5,747.5 242.5,748.5 240.5,748.5 240.5,749.5 240.5,750.5 238.5,751.5 237.5,752.5 238.5,752.5 237.5,753.5 237.5,754.5 235.5,755.5 236.5,756.5 235.5,757.5 232.5,758.5 228.5,759.5 220.5,760.5 215.5,761.5 217.5,762.5 222.5,763.5 226.5,764.5 232.5,765.5 234.5,765.5 235.5,766.5 238.5,767.5 240.5,768.5 240.5,768.5 241.5,769.5 242.5,770.5 243.5,771.5 241.5,771.5 241.5,772.5 238.5,773.5 237.5,774.5 235.5,775.5 230.5,776.5 225.5,777.5 226.5,777.5 228.5,778.5 229.5,779.5 231.5,780.5 235.5,781.5 237.5,782.5 238.5,782.5 239.5,783.5 241.5,784.5 242.5,785.5 243.5,786.5 243.5,786.5 245.5,787.5 245.5,788.5 247.5,789.5 249.5,790.5 249.5,791.5 251.5,792.5 252.5,793.5 253.5,793.5 254.5,794.5 257.5,795.5 258.5,796.5 260.5,797.5 262.5,798.5 264.5,799.5 266.5,800.5 267.5,800.5 270.5,801.5 273.5,802.5 275.5,803.5 276.5,804.5 277.5,805.5 278.5,806.5 278.5,806.5 279.5,807.5 280.5,808.5 280.5,809.5 280.5,810.5 281.5,811.5 280.5,811.5 281.5,812.5 280.5,813.5 279.5,814.5 278.5,815.5 278.5,816.5 277.5,817.5 277.5,818.5 274.5,818.5 272.5,819.5 270.5,820.5 268.5,821.5 263.5,823.5 249.5,823.5 243.5,824.5 232.5,826.5 230.5,826.5 213.5,827.5 208.5,828.5 198.5,829.5 193.5,829.5 174.5,830.5 168.5,830.5 163.5,831.5 162.5,832.5 162.5,833.5 162.5,834.5 163.5,835.5 163.5,836.5 163.5,836.5 163.5,837.5 163.5,838.5 163.5,839.5 163.5,840.5 163.5,841.5 162.5,841.5 162.5,842.5 162.5,843.5 161.5,844.5 160.5,845.5 160.5,846.5 161.5,846.5 159.5,847.5 159.5,848.5 159.5,849.5 158.5,850.5 157.5,851.5 157.5,851.5 155.5,852.5 154.5,853.5 153.5,854.5 153.5,855.5 153.5,856.5 151.5,857.5 151.5,857.5 152.5,858.5 152.5,859.5 152.5,860.5 153.5,860.5 154.5,861.5 153.5,862.5 155.5,863.5 155.5,864.5 155.5,864.5 157.5,865.5 157.5,866.5 157.5,867.5 158.5,868.5 159.5,869.5 158.5,870.5 159.5,870.5 158.5,871.5 158.5,872.5 158.5,873.5 158.5,874.5 158.5,875.5 157.5,876.5 156.5,876.5 157.5,877.5 157.5,878.5 156.5,879.5 155.5,880.5 156.5,881.5 154.5,881.5 155.5,882.5 155.5,883.5 153.5,884.5 153.5,885.5 153.5,885.5 152.5,886.5 152.5,887.5 151.5,888.5 153.5,889.5 157.5,890.5 160.5,890.5 164.5,891.5 167.5,892.5 171.5,893.5 174.5,894.5 174.5,895.5 175.5,896.5 174.5,897.5 174.5,897.5 173.5,898.5 174.5,899.5 174.5,900.5 173.5,901.5 172.5,902.5 173.5,903.5 172.5,903.5 172.5,904.5 171.5,905.5 170.5,906.5 170.5,907.5 168.5,907.5 169.5,908.5 168.5,909.5 167.5,910.5 168.5,911.5 167.5,911.5 165.5,912.5 164.5,913.5 164.5,914.5 163.5,915.5 162.5,916.5 160.5,917.5 161.5,918.5 159.5,918.5 155.5,919.5 153.5,920.5 153.5,921.5 150.5,922.5 149.5,923.5 148.5,924.5 145.5,925.5 145.5,925.5 142.5,926.5 141.5,927.5 140.5,928.5 141.5,929.5 141.5,929.5 142.5,930.5 143.5,931.5 143.5,932.5 144.5,933.5 144.5,933.5 144.5,934.5 145.5,935.5 145.5,936.5 146.5,937.5 148.5,937.5 150.5,938.5 151.5,939.5 153.5,940.5 154.5,941.5 155.5,941.5 156.5,942.5 156.5,943.5 157.5,944.5 158.5,945.5 159.5,946.5 159.5,946.5 160.5,947.5 160.5,948.5 159.5,949.5 160.5,950.5 160.5,950.5 160.5,951.5 160.5,952.5 159.5,953.5 160.5,954.5 161.5,954.5 160.5,955.5 158.5,956.5 158.5,957.5 157.5,958.5 156.5,958.5 155.5,959.5 155.5,960.5 154.5,961.5 152.5,962.5 151.5,963.5 151.5,963.5 149.5,964.5 148.5,965.5 146.5,966.5 145.5,967.5 146.5,967.5 145.5,968.5 146.5,969.5 146.5,970.5 146.5,971.5 146.5,971.5 147.5,972.5 147.5,973.5 146.5,974.5 147.5,975.5 148.5,975.5 147.5,976.5 148.5,977.5 149.5,978.5 149.5,979.5 149.5,979.5 150.5,980.5 150.5,981.5 151.5,982.5 151.5,983.5 151.5,983.5 152.5,984.5 152.5,985.5 152.5,986.5 152.5,987.5 153.5,987.5 153.5,988.5 153.5,989.5 153.5,990.5 154.5,991.5 153.5,991.5 154.5,992.5 153.5,993.5 154.5,994.5 154.5,995.5 154.5,996.5 154.5,996.5 154.5,997.5 153.5,998.5 155.5,999.5 154.5,1000.5 155.5,1001.5 154.5,1002.5 154.5,1002.5 154.5,1003.5 156.5,1004.5 156.5,1005.5 156.5,1006.5 157.5,1007.5 158.5,1008.5 157.5,1008.5 158.5,1009.5 159.5,1010.5 159.5,1011.5 159.5,1012.5 160.5,1013.5 160.5,1014.5 160.5,1014.5 161.5,1015.5 161.5,1016.5 161.5,1017.5 160.5,1018.5 161.5,1019.5 161.5,1019.5 161.5,1020.5 161.5,1021.5 162.5,1022.5 162.5,1023.5 161.5,1024.5 161.5,1024.5 162.5,1025.5 162.5,1026.5 161.5,1027.5 161.5,1028.5 161.5,1029.5 162.5,1029.5 161.5,1030.5 161.5,1031.5 161.5,1032.5 161.5,1033.5 160.5,1034.5 160.5,1035.5 160.5,1035.5 159.5,1036.5 160.5,1037.5 159.5,1038.5 158.5,1039.5 158.5,1040.5 158.5,1041.5 158.5,1042.5 158.5,1042.5 157.5,1043.5 157.5,1044.5 157.5,1045.5 157.5,1046.5 158.5,1047.5 157.5,1048.5 157.5,1048.5 156.5,1049.5 157.5,1050.5 157.5,1051.5 156.5,1052.5 157.5,1053.5 157.5,1054.5 157.5,1054.5 157.5,1055.5 156.5,1056.5 157.5,1057.5 156.5,1058.5 156.5,1059.5 156.5,1059.5 156.5,1060.5 155.5,1061.5 155.5,1062.5 155.5,1063.5 155.5,1064.5 156.5,1065.5 155.5,1065.5 155.5,1066.5 155.5,1067.5 155.5,1068.5 154.5,1069.5 154.5,1070.5 154.5,1070.5 153.5,1071.5 153.5,1072.5 152.5,1073.5 153.5,1074.5 153.5,1075.5 152.5,1076.5 152.5,1076.5 152.5,1077.5 151.5,1078.5 151.5,1079.5 151.5,1080.5 151.5,1081.5 151.5,1081.5 150.5,1082.5 151.5,1083.5 150.5,1084.5 149.5,1085.5 149.5,1086.5 149.5,1087.5 149.5,1087.5 148.5,1088.5 148.5,1089.5 147.5,1090.5 147.5,1091.5 147.5,1092.5 147.5,1092.5 146.5,1093.5 146.5,1094.5 146.5,1095.5 145.5,1096.5 145.5,1097.5 145.5,1097.5 143.5,1098.5 141.5,1099.5 142.5,1100.5 139.5,1101.5 139.5,1102.5 136.5,1103.5 135.5,1103.5 132.5,1104.5 132.5,1105.5 130.5,1106.5 127.5,1107.5 124.5,1107.5 122.5,1108.5 121.5,1109.5 118.5,1110.5 116.5,1111.5 115.5,1112.5 113.5,1113.5 112.5,1113.5 111.5,1114.5 110.5,1115.5 110.5,1116.5 110.5,1117.5 110.5,1118.5 110.5,1118.5 110.5,1119.5 110.5,1120.5 109.5,1121.5 110.5,1122.5 110.5,1123.5 109.5,1123.5 109.5,1124.5 108.5,1125.5 108.5,1126.5 108.5,1127.5 108.5,1127.5 108.5,1128.5 107.5,1129.5 108.5,1130.5 106.5,1131.5 106.5,1132.5 107.5,1132.5 105.5,1133.5 106.5,1134.5 106.5,1135.5 106.5,1136.5 106.5,1136.5 105.5,1137.5 105.5,1138.5 105.5,1139.5 105.5,1140.5 104.5,1141.5 104.5,1142.5 105.5,1143.5 104.5,1143.5 104.5,1144.5 105.5,1145.5 104.5,1146.5 105.5,1147.5 105.5,1148.5 105.5,1149.5 105.5,1150.5 105.5,1150.5 105.5,1157.5 104.5,1163.5 103.5,1167.5 102.5,1174.5 101.5,1179.5 100.5,1185.5 99.5,1189.5 100.5,1192.5 100.5,1197.5 99.5,1200.5 101.5,1202.5 99.5,1206.5 101.5,1210.5 100.5,1212.5 99.5,1216.5 98.5,1221.5 100.5,1221.5 100.5,1227.5 100.5,1231.5 98.5,1236.5 100.5,1243.5 97.5,1248.5 96.5,1255.5 98.5,1261.5 96.5,1270.5 95.5,1274.5 96.5,1282.5 95.5,1288.5 95.5,1294.5 95.5,1302.5 95.5,1309.5 95.5,1316.5 95.5,1324.5 95.5,1331.5 95.5,1338.5 95.5,1346.5 94.5,1354.5 94.5,1362.5 94.5,1369.5 93.5,1376.5 93.5,1383.5 93.5,1390.5 92.5,1397.5 92.5,1404.5 92.5,1411.5 92.5,1418.5 92.5,1424.5 92.5,1432.5 92.5,1439.5 91.5,1446.5 91.5,1454.5 91.5,1461.5 91.5,1469.5 91.5,1476.5 91.5,1484.5 90.5,1491.5 90.5,1498.5 90.5,1505.5"/>
</g>
<g clip-path="url(#kr1c2)">
<polyline fill="none" stroke="#1f77b4" stroke-width="2.08" stroke-linejoin="round" points="891.7,34.2 890.1,34.7 889.9,35.2 892.4,35.7 892.4,36.2 889.8,36.7 891.7,37.2 891.2,37.7 892.9,38.2 892.0,38.7 892.1,39.2 891.7,39.7 894.1,40.2 894.7,40.7 891.8,41.2 893.9,41.7 891.2,42.2 892.7,42.7 893.9,43.2 895.2,43.7 892.0,44.2 892.6,44.7 893.1,45.2 890.3,45.7 892.9,46.2 891.8,46.7 893.6,47.2 891.1,47.7 889.7,48.2 893.2,48.7 893.6,49.2 892.3,49.7 894.7,50.2 893.0,50.3 892.3,50.8 894.0,51.3 890.3,51.8 891.7,52.2 892.6,52.7 893.9,53.2 892.0,53.7 892.7,54.2 890.9,54.7 892.3,55.2 894.5,55.7 890.3,56.2 895.0,56.6 890.0,57.1 891.0,57.6 891.1,58.1 892.3,58.6 888.3,59.1 886.6,59.6 891.0,60.1 890.1,60.6 889.8,61.1 890.3,61.7 889.2,62.2 889.2,62.6 889.4,63.1 889.1,63.6 889.6,64.0 888.3,64.5 888.6,65.0 889.8,65.4 893.2,65.8 892.7,66.2 893.3,66.7 893.9,67.2 893.0,67.6 892.9,68.1 892.9,68.6 892.7,69.0 892.7,69.5 893.2,70.0 892.9,70.5 892.8,70.9 892.7,71.4 893.1,71.9 892.9,72.3 892.6,72.8 892.9,73.3 892.5,73.8 892.1,74.2 893.2,74.7 892.8,75.2 892.1,75.7 893.0,76.1 892.6,76.6 891.8,77.1 893.2,77.6 892.6,78.0 892.8,78.5 892.4,79.0 892.1,79.5 891.3,79.9 892.3,80.4 891.8,80.9 891.5,81.4 891.7,81.9 891.4,82.3 891.5,82.8 890.9,83.3 891.0,83.8 889.9,84.2 890.5,84.7 890.9,85.2 890.9,85.7 889.8,86.2 889.6,86.6 890.1,87.1 888.9,87.6 889.1,88.1 889.2,88.6 888.1,89.1 888.4,89.5 887.2,90.0 887.3,90.5 886.0,91.0 884.9,91.6 884.2,92.1 883.5,92.7 851.8,93.8 840.9,94.5 830.5,95.0 828.9,95.2 827.5,95.6 826.5,95.9"/><polyline fill="none" stroke="none" marker-start="url(#mx)" marker-mid="url(#mx)" marker-end="url(#mx)" points="892.5,34.5 890.5,35.5 890.5,35.5 892.5,36.5 892.5,36.5 890.5,37.5 892.5,37.5 891.5,38.5 893.5,38.5 892.5,39.5 892.5,39.5 892.5,40.5 894.5,40.5 895.5,41.5 892.5,41.5 894.5,42.5 891.5,42.5 893.5,43.5 894.5,43.5 895.5,44.5 892.5,44.5 893.5,45.5 893.5,45.5 890.5,46.5 893.5,46.5 892.5,47.5 894.5,47.5 891.5,48.5 890.5,48.5 893.5,49.5 894.5,49.5 892.5,50.5 895.5,50.5 893.5,50.5 892.5,51.5 894.5,51.5 890.5,52.5 892.5,52.5 893.5,53.5 894.5,53.5 892.5,54.5 893.5,54.5 891.5,55.5 892.5,55.5 894.5,56.5 890.5,56.5 895.5,57.5 890.5,57.5 891.5,58.5 891.5,58.5 892.5,59.5 888.5,59.5 887.5,60.5 891.5,60.5 890.5,61.5 890.5,61.5 890.5,62.5 889.5,62.5 889.5,63.5 889.5,63.5 889.5,64.5 890.5,64.5 888.5,64.5 889.5,65.5 890.5,65.5 893.5,66.5 893.5,66.5 893.5,67.5 894.5,67.5 893.5,68.5 893.5,68.5 893.5,69.5 893.5,69.5 893.5,70.5 893.5,70.5 893.5,70.5 893.5,71.5 893.5,71.5 893.5,72.5 893.5,72.5 893.5,73.5 893.5,73.5 893.5,74.5 892.5,74.5 893.5,75.5 893.5,75.5 892.5,76.5 893.5,76.5 893.5,77.5 892.5,77.5 893.5,78.5 893.5,78.5 893.5,79.5 892.5,79.5 892.5,79.5 891.5,80.5 892.5,80.5 892.5,81.5 891.5,81.5 892.5,82.5 891.5,82.5 892.5,83.5 891.5,83.5 891.5,84.5 890.5,84.5 891.5,85.5 891.5,85.5 891.5,86.5 890.5,86.5 890.5,87.5 890.5,87.5 889.5,88.5 889.5,88.5 889.5,89.5 888.5,89.5 888.5,90.5 887.5,90.5 887.5,90.5 886.5,91.5 885.5,92.5 884.5,92.5 883.5,93.5 852.5,94.5 841.5,95.5 830.5,95.5 829.5,95.5 828.5,96.5 827.5,96.5"/>
<polyline fill="none" stroke="#1f77b4" stroke-width="2.08" stroke-linejoin="round" points="779.8,99.2 782.1,98.8 787.8,98.5"/><polyline fill="none" stroke="none" marker-start="url(#mx)" marker-mid="url(#mx)" marker-end="url(#mx)" points="780.5,99.5 782.5,99.5 788.5,98.5"/>
<polyline fill="none" stroke="#1f77b4" stroke-width="2.08" stroke-linejoin="round" points="668.8,101.8 641.6,101.8 628.1,102.3 624.5,102.7 612.4,103.5 605.2,103.9 588.1,104.3 580.9,104.7 578.8,106.0 576.5,106.4 569.5,107.8 565.5,108.4 561.5,108.7 559.3,108.7 560.8,108.6 560.8,109.1 560.2,108.9 562.5,109.3 566.5,109.6 571.5,110.3 579.9,111.3 585.5,111.8 590.6,112.2 597.5,112.7 601.5,113.0 604.5,113.1 607.5,113.4 613.1,113.8 618.5,114.1 623.8,114.4 629.5,114.6 635.6,114.8 639.5,115.7 643.1,116.6 644.5,117.2 647.4,118.4 653.5,118.8 657.5,119.0 660.2,119.1 663.5,119.5 670.9,120.9 675.5,121.9 679.5,122.8 680.5,123.3 681.9,123.8 682.0,124.3 684.2,124.8 684.2,125.3 684.6,125.8 684.7,126.3 684.8,126.8 685.1,127.2 684.4,127.6 683.9,128.1 684.0,128.5 683.7,129.0 682.1,129.4 681.4,129.9 680.9,130.4 679.6,130.8 672.4,132.2 666.5,132.6 659.2,133.6 663.8,132.4 660.9,132.9 659.5,133.0 663.5,133.3 667.5,133.6 672.4,133.8 678.5,134.4 685.2,135.1 691.5,135.7 698.1,136.3 702.4,136.5 710.2,137.6 717.5,138.7 723.5,139.6 726.5,140.1 728.0,140.4 729.4,140.4 727.7,140.0 728.2,140.6 728.1,140.3 729.5,140.5 732.5,141.0 747.4,144.2 765.5,145.3 768.1,145.4 772.4,146.7 780.5,148.2 783.8,148.8 786.5,149.3 799.5,150.9 800.2,151.0 801.6,150.7 801.3,151.1 801.6,151.3 803.5,151.8 807.5,153.5 809.5,154.2 812.5,154.6 823.8,155.4 838.8,156.3 844.5,157.3 848.1,157.9 851.5,158.5 855.2,159.2 859.5,159.8 863.8,160.4 867.5,161.1 871.5,161.8 875.4,162.5 875.2,163.0 875.4,163.5 875.9,164.0 876.3,164.5 876.3,165.0 875.1,165.5 873.8,166.0 868.1,167.1 864.5,167.8 862.4,168.3"/><polyline fill="none" stroke="none" marker-start="url(#mx)" marker-mid="url(#mx)" marker-end="url(#mx)" points="669.5,102.5 642.5,102.5 628.5,102.5 625.5,103.5 612.5,103.5 605.5,104.5 588.5,104.5 581.5,105.5 579.5,106.5 577.5,106.5 569.5,108.5 565.5,108.5 562.5,109.5 559.5,109.5 561.5,109.5 561.5,109.5 560.5,109.5 563.5,109.5 567.5,110.5 572.5,110.5 580.5,111.5 586.5,112.5 591.5,112.5 598.5,113.5 602.5,113.5 604.5,113.5 608.5,113.5 613.5,114.5 618.5,114.5 624.5,114.5 630.5,115.5 636.5,115.5 639.5,116.5 643.5,117.5 644.5,117.5 647.5,118.5 653.5,119.5 657.5,119.5 660.5,119.5 664.5,120.5 671.5,121.5 675.5,122.5 679.5,123.5 680.5,123.5 682.5,124.5 682.5,124.5 684.5,125.5 684.5,125.5 685.5,126.5 685.5,126.5 685.5,127.5 685.5,127.5 684.5,128.5 684.5,128.5 684.5,128.5 684.5,129.5 682.5,129.5 681.5,130.5 681.5,130.5 680.5,131.5 672.5,132.5 666.5,133.5 659.5,134.5 664.5,132.5 661.5,133.5 660.5,133.5 664.5,133.5 668.5,134.5 672.5,134.5 678.5,134.5 685.5,135.5 692.5,136.5 698.5,136.5 702.5,137.5 710.5,138.5 718.5,139.5 723.5,140.5 727.5,140.5 728.5,140.5 729.5,140.5 728.5,140.5 728.5,141.5 728.5,140.5 730.5,140.5 732.5,141.5 747.5,144.5 766.5,145.5 768.5,145.5 772.5,147.5 780.5,148.5 784.5,149.5 787.5,149.5 799.5,151.5 800.5,151.5 802.5,151.5 801.5,151.5 802.5,151.5 803.5,152.5 807.5,154.5 810.5,154.5 812.5,155.5 824.5,155.5 839.5,156.5 845.5,157.5 848.5,158.5 851.5,159.5 855.5,159.5 860.5,160.5 864.5,160.5 868.5,161.5 872.5,162.5 875.5,162.5 875.5,163.5 875.5,163.5 876.5,164.5 876.5,164.5 876.5,165.5 875.5,166.5 874.5,166.5 868.5,167.5 864.5,168.5 862.5,168.5"/>
<polyline fill="none" stroke="#1f77b4" stroke-width="2.08" stroke-linejoin="round" points="817.4,171.7 814.9,171.1 815.9,171.2 814.5,171.3 790.9,171.9 783.1,172.1 769.5,173.1"/><polyline fill="none" stroke="none" marker-start="url(#mx)" marker-mid="url(#mx)" marker-end="url(#mx)" points="817.5,172.5 815.5,171.5 816.5,171.5 815.5,171.5 791.5,172.5 783.5,172.5 770.5,173.5"/>
<polyline fill="none" stroke="#1f77b4" stroke-width="2.08" stroke-linejoin="round" points="732.7,178.0 735.0,177.4 736.6,177.1 736.5,177.4 733.5,177.5 735.9,177.4 734.5,177.1 737.0,178.0 735.5,177.8 749.5,179.9 754.5,180.4 757.0,180.9 757.6,181.4 760.8,181.9 762.5,182.4 762.7,182.9 762.7,183.4 763.2,183.9 762.6,184.4 763.1,184.9 762.6,185.4 763.2,185.9 762.6,186.5 763.0,187.0 763.9,187.5 763.7,188.0 763.7,188.5 763.6,189.1 764.1,189.6 765.3,190.1 766.3,190.7 766.8,191.2 769.3,191.7 771.6,192.2 774.7,192.7 776.4,193.3 777.0,193.8 778.2,194.3 778.5,194.8 779.0,195.3 779.5,195.9 780.2,196.4 781.3,196.9 781.8,197.4 781.1,197.9 781.9,198.4 781.8,198.9 781.3,199.3 782.2,199.8 781.7,200.3 781.7,200.8 782.3,201.3 782.6,201.8 781.7,202.3 782.3,202.7 781.7,203.2 783.3,203.7 782.2,204.2 783.1,204.7 782.5,205.2 783.3,205.7 784.1,206.2 782.3,206.7 783.3,207.2 783.9,207.7 783.8,208.2"/><polyline fill="none" stroke="none" marker-start="url(#mx)" marker-mid="url(#mx)" marker-end="url(#mx)" points="733.5,178.5 735.5,177.5 737.5,177.5 737.5,177.5 734.5,178.5 736.5,177.5 735.5,177.5 737.5,178.5 736.5,178.5 749.5,180.5 754.5,180.5 757.5,181.5 758.5,181.5 761.5,182.5 762.5,182.5 763.5,183.5 763.5,183.5 763.5,184.5 763.5,184.5 763.5,185.5 763.5,185.5 763.5,186.5 763.5,186.5 763.5,187.5 764.5,187.5 764.5,188.5 764.5,189.5 764.5,189.5 764.5,190.5 765.5,190.5 766.5,191.5 767.5,191.5 769.5,192.5 772.5,192.5 775.5,193.5 776.5,193.5 777.5,194.5 778.5,194.5 779.5,195.5 779.5,195.5 779.5,196.5 780.5,196.5 781.5,197.5 782.5,197.5 781.5,198.5 782.5,198.5 782.5,199.5 781.5,199.5 782.5,200.5 782.5,200.5 782.5,201.5 782.5,201.5 783.5,202.5 782.5,202.5 782.5,203.5 782.5,203.5 783.5,204.5 782.5,204.5 783.5,205.5 782.5,205.5 783.5,206.5 784.5,206.5 782.5,207.5 783.5,207.5 784.5,208.5 784.5,208.5"/>
<polyline fill="none" stroke="#1f77b4" stroke-width="2.08" stroke-linejoin="round" points="808.8,209.9 813.1,210.3 819.1,210.7 818.1,211.2 817.4,211.7 818.5,212.2 817.3,212.7 818.6,213.2 817.8,213.7 818.2,214.2 818.7,214.7 818.2,215.2 817.5,215.7 817.0,216.2 817.9,216.7 817.4,217.2 816.3,217.7 816.7,218.2 816.2,218.6 815.9,219.1 814.2,219.6 814.7,220.1 814.9,220.6 814.5,221.1 814.2,221.6 811.7,222.1 811.7,222.6 810.8,223.1 810.5,223.6 808.0,224.1 807.2,224.7 806.3,225.2 805.6,225.7 803.6,226.2 802.9,226.6 800.6,227.1 799.6,227.6 797.8,228.1 796.7,228.5 794.9,229.0 793.9,229.5 794.6,230.0 793.7,230.5 792.7,231.0 792.5,231.5 793.9,232.0 794.0,232.5 795.4,232.9 796.7,233.4 797.7,233.9 798.3,234.3 798.6,234.8 804.4,235.4 808.2,235.9 812.4,236.5 814.3,237.0 816.5,237.5 818.2,238.0 819.9,238.5 822.1,239.0 822.5,239.5 822.8,240.0 822.9,240.5 824.1,241.0 823.6,241.5 824.8,242.0 824.4,242.5 825.4,243.0 826.2,243.5 826.0,244.0 825.5,244.4 825.7,244.9 825.6,245.4 824.7,245.9 825.1,246.4 825.3,246.9 824.9,247.3 825.1,247.8 825.2,248.3 825.1,248.8 824.3,249.3 823.2,249.7 821.9,250.2 821.1,250.7 820.1,251.2 819.2,251.6 818.3,252.1 816.7,252.6 817.6,253.0 818.0,253.5 817.9,254.0 818.6,254.5 819.1,254.9 819.0,255.4 820.3,255.9 818.6,256.4 819.8,256.8 819.3,257.3 820.9,257.8 821.7,258.3 820.9,258.7 823.2,259.2 824.6,259.7 825.5,260.2 827.1,260.6 827.1,261.1 829.7,261.6 830.7,262.1 831.4,262.5 832.0,263.0 833.5,263.5 833.8,263.9 835.1,264.4 835.6,264.9 835.7,265.4 837.6,265.8 838.6,266.3 839.7,266.8 839.2,267.2 839.8,267.7 840.3,268.2 840.3,268.7 841.0,269.1 841.5,269.6 840.4,270.1 840.2,270.6 841.7,271.0 842.2,271.5 842.1,272.0 842.3,272.5 842.6,272.9 843.5,273.4 845.2,273.9 845.4,274.4 845.9,274.8 847.3,275.3 849.7,275.8 850.5,276.2 850.3,276.7 851.3,277.2 852.2,277.7 852.3,278.1 853.8,278.6 853.7,279.1 853.8,279.5 855.4,280.0 855.1,280.5 856.0,281.0 856.5,281.4 856.9,281.9 857.7,282.4 857.8,282.8 857.4,283.3 857.3,283.8 857.9,284.3 858.2,284.8 858.6,285.4 858.8,285.9 859.1,286.4 859.0,286.9 858.7,287.4 858.8,287.9 858.3,288.4 859.3,288.9 859.7,289.4 859.8,289.9 859.6,290.4 859.7,290.9 860.2,291.4 859.8,291.9 860.2,292.4 860.2,292.9 860.0,293.4 860.6,293.9 859.8,294.4 859.9,294.9 859.8,295.4 859.8,295.9 860.9,296.4 861.0,296.9 860.3,297.4 860.6,297.9 860.9,298.4 860.8,298.9 861.0,299.4 859.9,299.9 860.5,300.4 861.3,300.9 862.0,301.4 861.6,301.9 861.5,302.4 862.0,302.9 862.1,303.4 862.3,303.9 863.6,304.4 863.0,304.9 863.5,305.4 864.8,305.9 864.6,306.4 864.5,306.9 864.3,307.4 864.8,307.9 865.4,308.4 865.1,308.9 865.4,309.3 864.9,309.8 865.2,310.3 864.9,310.8 865.2,311.2 865.7,311.7 864.5,312.2 865.2,312.7 865.4,313.1 865.1,313.6 865.3,314.1 865.6,314.6 866.1,315.1 865.4,315.6 865.1,316.1 864.2,316.6 865.6,317.1 864.7,317.6 864.5,318.1 863.9,318.6 864.3,319.1 863.7,319.6 864.2,320.1 864.2,320.6 863.9,321.1 863.9,321.6 863.3,322.2 864.2,322.7 863.1,323.2 862.5,323.7 863.1,324.2 862.7,324.7 862.5,325.2 862.7,325.7 862.8,326.2 862.0,326.7 862.4,327.2 863.0,327.7 862.5,328.2 861.7,328.7 861.3,329.2 860.8,329.6 860.4,330.1 860.3,330.6 859.4,331.1 858.0,331.5 858.5,332.0 857.7,332.5 855.5,333.0 852.1,333.4 849.6,333.9 847.7,334.4 843.8,334.9 841.3,335.3 838.8,335.8 836.0,336.3 835.3,336.7 835.4,337.2 834.0,337.7 832.6,338.1 831.8,338.6 832.2,339.1 831.0,339.5 830.6,340.0 830.4,340.5 830.3,341.0 830.0,341.5 829.0,341.9 828.1,342.4 827.9,342.9 828.4,343.4 828.0,343.8 827.1,344.3 827.2,344.8 826.9,345.2 826.6,345.7 826.2,346.2 825.6,346.7 825.8,347.1 825.1,347.6 826.2,348.1 825.8,348.5 824.9,349.0 826.1,349.5 825.8,350.0 824.5,350.4 826.1,350.9 825.6,351.4 826.1,351.9 824.5,352.3 825.3,352.8 825.2,353.3 825.0,353.8 824.9,354.2 825.3,354.7 824.6,355.1 825.2,355.5 825.2,356.0 825.7,356.5 825.7,357.0 826.2,357.5 826.2,358.1 826.1,358.6 825.9,359.1 826.0,359.6 826.7,360.1 827.1,362.6 826.4,366.0 826.4,367.9 827.8,369.3 827.6,370.6 827.7,373.4 825.6,375.6 825.6,377.9 825.2,378.9 825.4,380.7 825.8,382.5 826.6,384.9 826.6,385.1 827.8,388.9 826.3,391.3 829.0,394.2 828.7,396.8 830.3,399.7 830.7,401.0 831.0,402.3 832.6,406.1 832.0,409.1 832.3,412.8 832.6,416.4 832.9,421.5 833.2,426.6 833.4,430.4 833.6,434.3 833.8,438.1 834.2,441.5 834.5,445.0 834.9,448.4 835.1,453.1 835.3,457.7 835.5,462.4 835.5,466.2 835.6,470.0 835.6,473.8 835.7,477.6 835.8,481.4 835.8,485.2 836.3,489.8 836.7,494.3 837.2,498.9 837.4,503.0 837.7,507.1 837.9,511.3 838.2,515.4 838.4,519.5 838.5,523.8 838.6,528.0 838.8,532.3 838.9,536.6 839.0,541.0 839.1,545.3 839.3,549.7 839.4,554.0 839.5,558.4 839.6,562.5 839.7,566.5"/><polyline fill="none" stroke="none" marker-start="url(#mx)" marker-mid="url(#mx)" marker-end="url(#mx)" points="809.5,210.5 813.5,210.5 819.5,211.5 818.5,211.5 817.5,212.5 818.5,212.5 817.5,213.5 819.5,213.5 818.5,214.5 818.5,214.5 819.5,215.5 818.5,215.5 817.5,216.5 817.5,216.5 818.5,217.5 817.5,217.5 816.5,218.5 817.5,218.5 816.5,219.5 816.5,219.5 814.5,220.5 815.5,220.5 815.5,221.5 814.5,221.5 814.5,222.5 812.5,222.5 812.5,223.5 811.5,223.5 810.5,224.5 808.5,224.5 807.5,225.5 806.5,225.5 806.5,226.5 804.5,226.5 803.5,227.5 801.5,227.5 800.5,228.5 798.5,228.5 797.5,229.5 795.5,229.5 794.5,230.5 795.5,230.5 794.5,231.5 793.5,231.5 792.5,232.5 794.5,232.5 794.5,232.5 795.5,233.5 797.5,233.5 798.5,234.5 798.5,234.5 799.5,235.5 804.5,235.5 808.5,236.5 812.5,237.5 814.5,237.5 817.5,238.5 818.5,238.5 820.5,239.5 822.5,239.5 822.5,240.5 823.5,240.5 823.5,240.5 824.5,241.5 824.5,241.5 825.5,242.5 824.5,242.5 825.5,243.5 826.5,243.5 826.5,244.5 825.5,244.5 826.5,245.5 826.5,245.5 825.5,246.5 825.5,246.5 825.5,247.5 825.5,247.5 825.5,248.5 825.5,248.5 825.5,249.5 824.5,249.5 823.5,250.5 822.5,250.5 821.5,251.5 820.5,251.5 819.5,252.5 818.5,252.5 817.5,253.5 818.5,253.5 818.5,254.5 818.5,254.5 819.5,254.5 819.5,255.5 819.5,255.5 820.5,256.5 819.5,256.5 820.5,257.5 819.5,257.5 821.5,258.5 822.5,258.5 821.5,259.5 823.5,259.5 825.5,260.5 825.5,260.5 827.5,261.5 827.5,261.5 830.5,262.5 831.5,262.5 831.5,263.5 832.5,263.5 833.5,263.5 834.5,264.5 835.5,264.5 836.5,265.5 836.5,265.5 838.5,266.5 839.5,266.5 840.5,267.5 839.5,267.5 840.5,268.5 840.5,268.5 840.5,269.5 841.5,269.5 842.5,270.5 840.5,270.5 840.5,271.5 842.5,271.5 842.5,272.5 842.5,272.5 842.5,272.5 843.5,273.5 844.5,273.5 845.5,274.5 845.5,274.5 846.5,275.5 847.5,275.5 850.5,276.5 851.5,276.5 850.5,277.5 851.5,277.5 852.5,278.5 852.5,278.5 854.5,279.5 854.5,279.5 854.5,280.5 855.5,280.5 855.5,280.5 856.5,281.5 856.5,281.5 857.5,282.5 858.5,282.5 858.5,283.5 857.5,283.5 857.5,284.5 858.5,284.5 858.5,285.5 859.5,285.5 859.5,286.5 859.5,286.5 859.5,287.5 859.5,287.5 859.5,288.5 858.5,288.5 859.5,289.5 860.5,289.5 860.5,290.5 860.5,290.5 860.5,291.5 860.5,291.5 860.5,292.5 860.5,292.5 860.5,293.5 860.5,293.5 861.5,294.5 860.5,294.5 860.5,295.5 860.5,295.5 860.5,296.5 861.5,296.5 861.5,297.5 860.5,297.5 861.5,298.5 861.5,298.5 861.5,299.5 861.5,299.5 860.5,300.5 860.5,300.5 861.5,301.5 862.5,301.5 862.5,302.5 861.5,302.5 862.5,303.5 862.5,303.5 862.5,304.5 864.5,304.5 863.5,305.5 864.5,305.5 865.5,306.5 865.5,306.5 864.5,307.5 864.5,307.5 865.5,308.5 865.5,308.5 865.5,309.5 865.5,309.5 865.5,310.5 865.5,310.5 865.5,311.5 865.5,311.5 866.5,312.5 865.5,312.5 865.5,313.5 865.5,313.5 865.5,314.5 865.5,314.5 866.5,315.5 866.5,315.5 865.5,316.5 865.5,316.5 864.5,317.5 866.5,317.5 865.5,318.5 865.5,318.5 864.5,319.5 864.5,319.5 864.5,320.5 864.5,320.5 864.5,321.5 864.5,321.5 864.5,322.5 863.5,322.5 864.5,323.5 863.5,323.5 862.5,324.5 863.5,324.5 863.5,325.5 862.5,325.5 863.5,326.5 863.5,326.5 862.5,327.5 862.5,327.5 863.5,328.5 863.5,328.5 862.5,329.5 861.5,329.5 861.5,330.5 860.5,330.5 860.5,331.5 859.5,331.5 858.5,332.5 859.5,332.5 858.5,332.5 856.5,333.5 852.5,333.5 850.5,334.5 848.5,334.5 844.5,335.5 841.5,335.5 839.5,336.5 836.5,336.5 835.5,337.5 835.5,337.5 834.5,338.5 833.5,338.5 832.5,339.5 832.5,339.5 831.5,340.5 831.5,340.5 830.5,341.5 830.5,341.5 830.5,341.5 829.5,342.5 828.5,342.5 828.5,343.5 828.5,343.5 828.5,344.5 827.5,344.5 827.5,345.5 827.5,345.5 827.5,346.5 826.5,346.5 826.5,347.5 826.5,347.5 825.5,348.5 826.5,348.5 826.5,349.5 825.5,349.5 826.5,349.5 826.5,350.5 824.5,350.5 826.5,351.5 826.5,351.5 826.5,352.5 825.5,352.5 825.5,353.5 825.5,353.5 825.5,354.5 825.5,354.5 825.5,355.5 825.5,355.5 825.5,356.5 825.5,356.5 826.5,357.5 826.5,357.5 826.5,358.5 826.5,358.5 826.5,359.5 826.5,359.5 826.5,360.5 827.5,360.5 827.5,363.5 826.5,366.5 826.5,368.5 828.5,369.5 828.5,371.5 828.5,373.5 826.5,376.5 826.5,378.5 825.5,379.5 825.5,381.5 826.5,383.5 827.5,385.5 827.5,385.5 828.5,389.5 826.5,391.5 829.5,394.5 829.5,397.5 830.5,400.5 831.5,401.5 831.5,402.5 833.5,406.5 832.5,409.5 832.5,413.5 833.5,416.5 833.5,422.5 833.5,427.5 833.5,430.5 834.5,434.5 834.5,438.5 834.5,442.5 835.5,445.5 835.5,448.5 835.5,453.5 835.5,458.5 836.5,462.5 836.5,466.5 836.5,470.5 836.5,474.5 836.5,478.5 836.5,481.5 836.5,485.5 836.5,490.5 837.5,494.5 837.5,499.5 837.5,503.5 838.5,507.5 838.5,511.5 838.5,515.5 838.5,520.5 839.5,524.5 839.5,528.5 839.5,532.5 839.5,537.5 839.5,541.5 839.5,545.5 839.5,550.5 839.5,554.5 840.5,558.5 840.5,562.5 840.5,567.5"/>
<circle cx="886.5" cy="67.1" r="4.17" fill="#ff0000" stroke="#ff0000" stroke-width="1.39"/>
<circle cx="882.7" cy="93.2" r="4.17" fill="#ff0000" stroke="#ff0000" stroke-width="1.39"/>
<circle cx="788.2" cy="99.0" r="4.17" fill="#ff0000" stroke="#ff0000" stroke-width="1.39"/>
<circle cx="843.9" cy="339.2" r="4.17" fill="#ff0000" stroke="#ff0000" stroke-width="1.39"/>
</g>
<g clip-path="url(#kr2c2)">
<polyline fill="none" stroke="#1f77b4" stroke-width="2.08" stroke-linejoin="round" points="891.7,590.4 890.1,591.3 889.9,592.1 892.4,593.0 892.4,593.9 889.8,594.7 891.7,595.6 891.2,596.4 892.9,597.3 892.0,598.1 892.1,599.0 891.7,599.9 894.1,600.7 894.7,601.6 891.8,602.4 893.9,603.3 891.2,604.2 892.7,605.0 893.9,605.9 895.2,606.7 892.0,607.6 892.6,608.5 893.1,609.3 890.3,610.2 892.9,611.0 891.8,611.9 893.6,612.8 891.1,613.6 889.7,614.5 893.2,615.3 893.6,616.2 892.3,617.1 894.7,617.9 893.0,618.1 892.3,618.9 894.0,619.8 890.3,620.6 891.7,621.5 892.6,622.3 893.9,623.1 892.0,624.0 892.7,624.8 890.9,625.7 892.3,626.5 894.5,627.4 890.3,628.2 895.0,629.0 890.0,629.9 891.0,630.7 891.1,631.6 892.3,632.4 888.3,633.3 886.6,634.1 891.0,635.0 890.1,635.9 889.8,636.8 890.3,637.6 889.2,638.5 889.2,639.3 889.4,640.1 889.1,640.9 889.6,641.7 888.3,642.5 888.6,643.3 889.8,644.0 893.2,644.7 892.7,645.5 893.3,646.3 893.9,647.1 893.0,647.9 892.9,648.7 892.9,649.5 892.7,650.3 892.7,651.1 893.2,651.9 892.9,652.8 892.8,653.6 892.7,654.4 893.1,655.2 892.9,656.0 892.6,656.8 892.9,657.6 892.5,658.5 892.1,659.3 893.2,660.1 892.8,660.9 892.1,661.7 893.0,662.5 892.6,663.3 891.8,664.2 893.2,665.0 892.6,665.8 892.8,666.6 892.4,667.4 892.1,668.2 891.3,669.1 892.3,669.9 891.8,670.7 891.5,671.5 891.7,672.4 891.4,673.2 891.5,674.0 890.9,674.8 891.0,675.6 889.9,676.5 890.5,677.3 890.9,678.1 890.9,678.9 889.8,679.8 889.6,680.6 890.1,681.4 888.9,682.2 889.1,683.1 889.2,683.9 888.1,684.7 888.4,685.5 887.2,686.4 887.3,687.2 886.0,688.1 884.9,689.0 884.2,690.0 883.5,690.9 851.8,692.9 840.9,694.1 830.5,695.0 828.9,695.2 827.5,696.0 826.5,696.5"/><polyline fill="none" stroke="none" marker-start="url(#mx)" marker-mid="url(#mx)" marker-end="url(#mx)" points="892.5,590.5 890.5,591.5 890.5,592.5 892.5,593.5 892.5,594.5 890.5,595.5 892.5,596.5 891.5,596.5 893.5,597.5 892.5,598.5 892.5,599.5 892.5,600.5 894.5,601.5 895.5,602.5 892.5,602.5 894.5,603.5 891.5,604.5 893.5,605.5 894.5,606.5 895.5,607.5 892.5,608.5 893.5,608.5 893.5,609.5 890.5,610.5 893.5,611.5 892.5,612.5 894.5,613.5 891.5,614.5 890.5,614.5 893.5,615.5 894.5,616.5 892.5,617.5 895.5,618.5 893.5,618.5 892.5,619.5 894.5,620.5 890.5,621.5 892.5,621.5 893.5,622.5 894.5,623.5 892.5,624.5 893.5,625.5 891.5,626.5 892.5,627.5 894.5,627.5 890.5,628.5 895.5,629.5 890.5,630.5 891.5,631.5 891.5,632.5 892.5,632.5 888.5,633.5 887.5,634.5 891.5,635.5 890.5,636.5 890.5,637.5 890.5,638.5 889.5,639.5 889.5,639.5 889.5,640.5 889.5,641.5 890.5,642.5 888.5,643.5 889.5,643.5 890.5,644.5 893.5,645.5 893.5,646.5 893.5,646.5 894.5,647.5 893.5,648.5 893.5,649.5 893.5,650.5 893.5,650.5 893.5,651.5 893.5,652.5 893.5,653.5 893.5,654.5 893.5,654.5 893.5,655.5 893.5,656.5 893.5,657.5 893.5,658.5 893.5,658.5 892.5,659.5 893.5,660.5 893.5,661.5 892.5,662.5 893.5,663.5 893.5,663.5 892.5,664.5 893.5,665.5 893.5,666.5 893.5,667.5 892.5,667.5 892.5,668.5 891.5,669.5 892.5,670.5 892.5,671.5 891.5,672.5 892.5,672.5 891.5,673.5 892.5,674.5 891.5,675.5 891.5,676.5 890.5,676.5 891.5,677.5 891.5,678.5 891.5,679.5 890.5,680.5 890.5,681.5 890.5,681.5 889.5,682.5 889.5,683.5 889.5,684.5 888.5,685.5 888.5,686.5 887.5,686.5 887.5,687.5 886.5,688.5 885.5,689.5 884.5,690.5 883.5,691.5 852.5,693.5 841.5,694.5 830.5,695.5 829.5,695.5 828.5,696.5 827.5,697.5"/>
<polyline fill="none" stroke="#1f77b4" stroke-width="2.08" stroke-linejoin="round" points="779.8,702.1 782.1,701.5 787.8,700.9"/><polyline fill="none" stroke="none" marker-start="url(#mx)" marker-mid="url(#mx)" marker-end="url(#mx)" points="780.5,702.5 782.5,702.5 788.5,701.5"/>
<polyline fill="none" stroke="#1f77b4" stroke-width="2.08" stroke-linejoin="round" points="668.8,706.6 641.6,706.6 628.1,707.4 624.5,708.1 612.4,709.5 605.2,710.2 588.1,710.9 580.9,711.6 578.8,713.8 576.5,714.5 569.5,717.0 565.5,718.0 561.5,718.5 559.3,718.5 560.8,718.3 560.8,719.1 560.2,718.8 562.5,719.5 566.5,720.0 571.5,721.3 579.9,722.9 585.5,723.8 590.6,724.5 597.5,725.4 601.5,725.9 604.5,726.1 607.5,726.5 613.1,727.2 618.5,727.8 623.8,728.3 629.5,728.6 635.6,729.0 639.5,730.5 643.1,732.0 644.5,733.0 647.4,735.2 653.5,735.8 657.5,736.2 660.2,736.4 663.5,737.1 670.9,739.5 675.5,741.1 679.5,742.7 680.5,743.6 681.9,744.4 682.0,745.3 684.2,746.1 684.2,747.0 684.6,747.8 684.7,748.7 684.8,749.5 685.1,750.2 684.4,751.0 683.9,751.8 684.0,752.5 683.7,753.3 682.1,754.1 681.4,754.9 680.9,755.7 679.6,756.5 672.4,758.8 666.5,759.5 659.2,761.3 663.8,759.1 660.9,760.1 659.5,760.3 663.5,760.7 667.5,761.2 672.4,761.6 678.5,762.7 685.2,763.8 691.5,764.8 698.1,765.9 702.4,766.3 710.2,768.1 717.5,770.0 723.5,771.5 726.5,772.4 728.0,772.9 729.4,773.0 727.7,772.2 728.2,773.2 728.1,772.7 729.5,773.1 732.5,774.0 747.4,779.5 765.5,781.3 768.1,781.6 772.4,783.8 780.5,786.3 783.8,787.4 786.5,788.2 799.5,791.0 800.2,791.1 801.6,790.6 801.3,791.4 801.6,791.6 803.5,792.5 807.5,795.5 809.5,796.6 812.5,797.3 823.8,798.8 838.8,800.2 844.5,802.0 848.1,803.1 851.5,804.1 855.2,805.2 859.5,806.3 863.8,807.4 867.5,808.5 871.5,809.7 875.4,810.9 875.2,811.8 875.4,812.6 875.9,813.5 876.3,814.3 876.3,815.2 875.1,816.1 873.8,817.0 868.1,818.8 864.5,820.0 862.4,820.9"/><polyline fill="none" stroke="none" marker-start="url(#mx)" marker-mid="url(#mx)" marker-end="url(#mx)" points="669.5,707.5 642.5,707.5 628.5,707.5 625.5,708.5 612.5,710.5 605.5,710.5 588.5,711.5 581.5,712.5 579.5,714.5 577.5,715.5 569.5,717.5 565.5,718.5 562.5,719.5 559.5,719.5 561.5,718.5 561.5,719.5 560.5,719.5 563.5,720.5 567.5,720.5 572.5,721.5 580.5,723.5 586.5,724.5 591.5,725.5 598.5,725.5 602.5,726.5 604.5,726.5 608.5,727.5 613.5,727.5 618.5,728.5 624.5,728.5 630.5,729.5 636.5,729.5 639.5,731.5 643.5,732.5 644.5,733.5 647.5,735.5 653.5,736.5 657.5,736.5 660.5,736.5 664.5,737.5 671.5,740.5 675.5,741.5 679.5,743.5 680.5,744.5 682.5,744.5 682.5,745.5 684.5,746.5 684.5,747.5 685.5,748.5 685.5,749.5 685.5,750.5 685.5,750.5 684.5,751.5 684.5,752.5 684.5,753.5 684.5,753.5 682.5,754.5 681.5,755.5 681.5,756.5 680.5,757.5 672.5,759.5 666.5,760.5 659.5,761.5 664.5,759.5 661.5,760.5 660.5,760.5 664.5,761.5 668.5,761.5 672.5,762.5 678.5,763.5 685.5,764.5 692.5,765.5 698.5,766.5 702.5,766.5 710.5,768.5 718.5,770.5 723.5,772.5 727.5,772.5 728.5,773.5 729.5,773.5 728.5,772.5 728.5,773.5 728.5,773.5 730.5,773.5 732.5,774.5 747.5,780.5 766.5,781.5 768.5,782.5 772.5,784.5 780.5,786.5 784.5,787.5 787.5,788.5 799.5,791.5 800.5,791.5 802.5,791.5 801.5,791.5 802.5,792.5 803.5,793.5 807.5,796.5 810.5,797.5 812.5,797.5 824.5,799.5 839.5,800.5 845.5,802.5 848.5,803.5 851.5,804.5 855.5,805.5 860.5,806.5 864.5,807.5 868.5,809.5 872.5,810.5 875.5,811.5 875.5,812.5 875.5,813.5 876.5,813.5 876.5,814.5 876.5,815.5 875.5,816.5 874.5,817.5 868.5,819.5 864.5,820.5 862.5,821.5"/>
<polyline fill="none" stroke="#1f77b4" stroke-width="2.08" stroke-linejoin="round" points="817.4,826.7 814.9,825.7 815.9,825.9 814.5,826.1 790.9,827.0 783.1,827.5 769.5,829.1"/><polyline fill="none" stroke="none" marker-start="url(#mx)" marker-mid="url(#mx)" marker-end="url(#mx)" points="817.5,827.5 815.5,826.5 816.5,826.5 815.5,826.5 791.5,827.5 783.5,828.5 770.5,829.5"/>
<polyline fill="none" stroke="#1f77b4" stroke-width="2.08" stroke-linejoin="round" points="732.7,837.5 735.0,836.6 736.6,835.9 736.5,836.6 733.5,836.7 735.9,836.6 734.5,836.0 737.0,837.5 735.5,837.3 749.5,840.9 754.5,841.6 757.0,842.5 757.6,843.4 760.8,844.3 762.5,845.2 762.7,846.1 762.7,846.9 763.2,847.8 762.6,848.6 763.1,849.5 762.6,850.4 763.2,851.2 762.6,852.1 763.0,852.9 763.9,853.8 763.7,854.7 763.7,855.6 763.6,856.6 764.1,857.5 765.3,858.4 766.3,859.3 766.8,860.2 769.3,861.1 771.6,862.0 774.7,862.9 776.4,863.8 777.0,864.7 778.2,865.6 778.5,866.5 779.0,867.3 779.5,868.2 780.2,869.1 781.3,870.0 781.8,870.9 781.1,871.7 781.9,872.6 781.8,873.4 781.3,874.2 782.2,875.1 781.7,875.9 781.7,876.7 782.3,877.6 782.6,878.4 781.7,879.2 782.3,880.1 781.7,880.9 783.3,881.8 782.2,882.6 783.1,883.5 782.5,884.3 783.3,885.2 784.1,886.1 782.3,886.9 783.3,887.8 783.9,888.6 783.8,889.5"/><polyline fill="none" stroke="none" marker-start="url(#mx)" marker-mid="url(#mx)" marker-end="url(#mx)" points="733.5,838.5 735.5,837.5 737.5,836.5 737.5,837.5 734.5,837.5 736.5,837.5 735.5,836.5 737.5,838.5 736.5,837.5 749.5,841.5 754.5,842.5 757.5,843.5 758.5,843.5 761.5,844.5 762.5,845.5 763.5,846.5 763.5,847.5 763.5,848.5 763.5,849.5 763.5,850.5 763.5,850.5 763.5,851.5 763.5,852.5 763.5,853.5 764.5,854.5 764.5,855.5 764.5,856.5 764.5,857.5 764.5,858.5 765.5,858.5 766.5,859.5 767.5,860.5 769.5,861.5 772.5,862.5 775.5,863.5 776.5,864.5 777.5,865.5 778.5,866.5 779.5,866.5 779.5,867.5 779.5,868.5 780.5,869.5 781.5,870.5 782.5,871.5 781.5,872.5 782.5,873.5 782.5,873.5 781.5,874.5 782.5,875.5 782.5,876.5 782.5,877.5 782.5,878.5 783.5,878.5 782.5,879.5 782.5,880.5 782.5,881.5 783.5,882.5 782.5,883.5 783.5,883.5 782.5,884.5 783.5,885.5 784.5,886.5 782.5,887.5 783.5,888.5 784.5,889.5 784.5,890.5"/>
<polyline fill="none" stroke="#1f77b4" stroke-width="2.08" stroke-linejoin="round" points="808.8,892.4 813.1,893.1 819.1,893.8 818.1,894.7 817.4,895.5 818.5,896.4 817.3,897.2 818.6,898.1 817.8,899.0 818.2,899.8 818.7,900.7 818.2,901.5 817.5,902.4 817.0,903.2 817.9,904.1 817.4,904.9 816.3,905.7 816.7,906.6 816.2,907.4 815.9,908.2 814.2,909.1 814.7,909.9 814.9,910.7 814.5,911.6 814.2,912.4 811.7,913.3 811.7,914.2 810.8,915.1 810.5,916.0 808.0,916.8 807.2,917.7 806.3,918.6 805.6,919.5 803.6,920.3 802.9,921.1 800.6,921.9 799.6,922.8 797.8,923.6 796.7,924.4 794.9,925.2 793.9,926.1 794.6,926.9 793.7,927.8 792.7,928.6 792.5,929.5 793.9,930.3 794.0,931.1 795.4,931.9 796.7,932.8 797.7,933.6 798.3,934.4 798.6,935.2 804.4,936.2 808.2,937.1 812.4,938.1 814.3,939.0 816.5,939.8 818.2,940.7 819.9,941.5 822.1,942.4 822.5,943.2 822.8,944.1 822.9,945.0 824.1,945.8 823.6,946.6 824.8,947.5 824.4,948.4 825.4,949.2 826.2,950.0 826.0,950.9 825.5,951.7 825.7,952.6 825.6,953.4 824.7,954.2 825.1,955.1 825.3,955.9 824.9,956.7 825.1,957.5 825.2,958.4 825.1,959.2 824.3,960.0 823.2,960.8 821.9,961.6 821.1,962.5 820.1,963.3 819.2,964.1 818.3,964.9 816.7,965.7 817.6,966.5 818.0,967.3 817.9,968.2 818.6,969.0 819.1,969.8 819.0,970.6 820.3,971.4 818.6,972.2 819.8,973.0 819.3,973.9 820.9,974.7 821.7,975.5 820.9,976.3 823.2,977.1 824.6,977.9 825.5,978.8 827.1,979.6 827.1,980.4 829.7,981.2 830.7,982.0 831.4,982.8 832.0,983.6 833.5,984.4 833.8,985.2 835.1,986.0 835.6,986.9 835.7,987.7 837.6,988.5 838.6,989.3 839.7,990.1 839.2,990.9 839.8,991.7 840.3,992.5 840.3,993.4 841.0,994.2 841.5,995.0 840.4,995.8 840.2,996.6 841.7,997.5 842.2,998.3 842.1,999.1 842.3,999.9 842.6,1000.7 843.5,1001.5 845.2,1002.3 845.4,1003.1 845.9,1004.0 847.3,1004.8 849.7,1005.6 850.5,1006.4 850.3,1007.2 851.3,1008.0 852.2,1008.8 852.3,1009.6 853.8,1010.4 853.7,1011.2 853.8,1012.0 855.4,1012.9 855.1,1013.7 856.0,1014.5 856.5,1015.3 856.9,1016.1 857.7,1016.9 857.8,1017.7 857.4,1018.6 857.3,1019.4 857.9,1020.3 858.2,1021.2 858.6,1022.0 858.8,1022.9 859.1,1023.8 859.0,1024.6 858.7,1025.5 858.8,1026.4 858.3,1027.2 859.3,1028.1 859.7,1029.0 859.8,1029.8 859.6,1030.7 859.7,1031.6 860.2,1032.4 859.8,1033.3 860.2,1034.1 860.2,1035.0 860.0,1035.8 860.6,1036.7 859.8,1037.6 859.9,1038.4 859.8,1039.3 859.8,1040.1 860.9,1041.0 861.0,1041.9 860.3,1042.7 860.6,1043.6 860.9,1044.4 860.8,1045.3 861.0,1046.1 859.9,1047.0 860.5,1047.9 861.3,1048.7 862.0,1049.6 861.6,1050.5 861.5,1051.3 862.0,1052.2 862.1,1053.1 862.3,1053.9 863.6,1054.8 863.0,1055.7 863.5,1056.5 864.8,1057.4 864.6,1058.3 864.5,1059.1 864.3,1060.0 864.8,1060.8 865.4,1061.6 865.1,1062.4 865.4,1063.3 864.9,1064.1 865.2,1064.9 864.9,1065.7 865.2,1066.5 865.7,1067.3 864.5,1068.1 865.2,1069.0 865.4,1069.8 865.1,1070.6 865.3,1071.4 865.6,1072.3 866.1,1073.1 865.4,1074.0 865.1,1074.9 864.2,1075.7 865.6,1076.6 864.7,1077.5 864.5,1078.3 863.9,1079.2 864.3,1080.1 863.7,1080.9 864.2,1081.8 864.2,1082.7 863.9,1083.5 863.9,1084.4 863.3,1085.3 864.2,1086.1 863.1,1087.0 862.5,1087.9 863.1,1088.7 862.7,1089.6 862.5,1090.5 862.7,1091.4 862.8,1092.2 862.0,1093.1 862.4,1094.0 863.0,1094.8 862.5,1095.7 861.7,1096.5 861.3,1097.3 860.8,1098.1 860.4,1098.9 860.3,1099.8 859.4,1100.6 858.0,1101.4 858.5,1102.2 857.7,1103.0 855.5,1103.8 852.1,1104.7 849.6,1105.5 847.7,1106.3 843.8,1107.1 841.3,1107.9 838.8,1108.7 836.0,1109.5 835.3,1110.3 835.4,1111.1 834.0,1111.9 832.6,1112.7 831.8,1113.5 832.2,1114.3 831.0,1115.2 830.6,1116.0 830.4,1116.8 830.3,1117.6 830.0,1118.4 829.0,1119.3 828.1,1120.1 827.9,1120.9 828.4,1121.7 828.0,1122.5 827.1,1123.3 827.2,1124.1 826.9,1124.9 826.6,1125.8 826.2,1126.6 825.6,1127.4 825.8,1128.2 825.1,1129.0 826.2,1129.8 825.8,1130.6 824.9,1131.4 826.1,1132.2 825.8,1133.1 824.5,1133.9 826.1,1134.7 825.6,1135.5 826.1,1136.3 824.5,1137.1 825.3,1137.9 825.2,1138.8 825.0,1139.6 824.9,1140.4 825.3,1141.2 824.6,1141.9 825.2,1142.6 825.2,1143.4 825.7,1144.3 825.7,1145.2 826.2,1146.1 826.2,1147.0 826.1,1147.8 825.9,1148.7 826.0,1149.6 826.7,1150.5 827.1,1154.8 826.4,1160.7 826.4,1163.9 827.8,1166.2 827.6,1168.6 827.7,1173.3 825.6,1177.2 825.6,1181.1 825.2,1182.8 825.4,1185.8 825.8,1189.0 826.6,1193.1 826.6,1193.4 827.8,1200.0 826.3,1204.0 829.0,1209.1 828.7,1213.6 830.3,1218.5 830.7,1220.8 831.0,1223.0 832.6,1229.5 832.0,1234.7 832.3,1241.0 832.6,1247.2 832.9,1256.0 833.2,1264.7 833.4,1271.3 833.6,1277.9 833.8,1284.5 834.2,1290.4 834.5,1296.3 834.9,1302.2 835.1,1310.2 835.3,1318.2 835.5,1326.3 835.5,1332.8 835.6,1339.3 835.6,1345.9 835.7,1352.4 835.8,1358.9 835.8,1365.4 836.3,1373.3 836.7,1381.1 837.2,1389.0 837.4,1396.1 837.7,1403.1 837.9,1410.2 838.2,1417.3 838.4,1424.4 838.5,1431.7 838.6,1439.1 838.8,1446.4 838.9,1453.8 839.0,1461.3 839.1,1468.8 839.3,1476.2 839.4,1483.7 839.5,1491.2 839.6,1498.2 839.7,1505.1"/><polyline fill="none" stroke="none" marker-start="url(#mx)" marker-mid="url(#mx)" marker-end="url(#mx)" points="809.5,892.5 813.5,893.5 819.5,894.5 818.5,895.5 817.5,896.5 818.5,896.5 817.5,897.5 819.5,898.5 818.5,899.5 818.5,900.5 819.5,901.5 818.5,902.5 817.5,902.5 817.5,903.5 818.5,904.5 817.5,905.5 816.5,906.5 817.5,907.5 816.5,907.5 816.5,908.5 814.5,909.5 815.5,910.5 815.5,911.5 814.5,912.5 814.5,912.5 812.5,913.5 812.5,914.5 811.5,915.5 810.5,916.5 808.5,917.5 807.5,918.5 806.5,919.5 806.5,920.5 804.5,920.5 803.5,921.5 801.5,922.5 800.5,923.5 798.5,924.5 797.5,924.5 795.5,925.5 794.5,926.5 795.5,927.5 794.5,928.5 793.5,929.5 792.5,930.5 794.5,930.5 794.5,931.5 795.5,932.5 797.5,933.5 798.5,934.5 798.5,934.5 799.5,935.5 804.5,936.5 808.5,937.5 812.5,938.5 814.5,939.5 817.5,940.5 818.5,941.5 820.5,942.5 822.5,942.5 822.5,943.5 823.5,944.5 823.5,945.5 824.5,946.5 824.5,947.5 825.5,948.5 824.5,948.5 825.5,949.5 826.5,950.5 826.5,951.5 825.5,952.5 826.5,953.5 826.5,953.5 825.5,954.5 825.5,955.5 825.5,956.5 825.5,957.5 825.5,958.5 825.5,958.5 825.5,959.5 824.5,960.5 823.5,961.5 822.5,962.5 821.5,962.5 820.5,963.5 819.5,964.5 818.5,965.5 817.5,966.5 818.5,967.5 818.5,967.5 818.5,968.5 819.5,969.5 819.5,970.5 819.5,971.5 820.5,971.5 819.5,972.5 820.5,973.5 819.5,974.5 821.5,975.5 822.5,976.5 821.5,976.5 823.5,977.5 825.5,978.5 825.5,979.5 827.5,980.5 827.5,980.5 830.5,981.5 831.5,982.5 831.5,983.5 832.5,984.5 833.5,984.5 834.5,985.5 835.5,986.5 836.5,987.5 836.5,988.5 838.5,988.5 839.5,989.5 840.5,990.5 839.5,991.5 840.5,992.5 840.5,993.5 840.5,993.5 841.5,994.5 842.5,995.5 840.5,996.5 840.5,997.5 842.5,997.5 842.5,998.5 842.5,999.5 842.5,1000.5 843.5,1001.5 844.5,1002.5 845.5,1002.5 845.5,1003.5 846.5,1004.5 847.5,1005.5 850.5,1006.5 851.5,1006.5 850.5,1007.5 851.5,1008.5 852.5,1009.5 852.5,1010.5 854.5,1010.5 854.5,1011.5 854.5,1012.5 855.5,1013.5 855.5,1014.5 856.5,1014.5 856.5,1015.5 857.5,1016.5 858.5,1017.5 858.5,1018.5 857.5,1019.5 857.5,1019.5 858.5,1020.5 858.5,1021.5 859.5,1022.5 859.5,1023.5 859.5,1024.5 859.5,1025.5 859.5,1026.5 859.5,1026.5 858.5,1027.5 859.5,1028.5 860.5,1029.5 860.5,1030.5 860.5,1031.5 860.5,1032.5 860.5,1032.5 860.5,1033.5 860.5,1034.5 860.5,1035.5 860.5,1036.5 861.5,1037.5 860.5,1038.5 860.5,1038.5 860.5,1039.5 860.5,1040.5 861.5,1041.5 861.5,1042.5 860.5,1043.5 861.5,1044.5 861.5,1044.5 861.5,1045.5 861.5,1046.5 860.5,1047.5 860.5,1048.5 861.5,1049.5 862.5,1050.5 862.5,1050.5 861.5,1051.5 862.5,1052.5 862.5,1053.5 862.5,1054.5 864.5,1055.5 863.5,1056.5 864.5,1057.5 865.5,1057.5 865.5,1058.5 864.5,1059.5 864.5,1060.5 865.5,1061.5 865.5,1062.5 865.5,1062.5 865.5,1063.5 865.5,1064.5 865.5,1065.5 865.5,1066.5 865.5,1067.5 866.5,1067.5 865.5,1068.5 865.5,1069.5 865.5,1070.5 865.5,1071.5 865.5,1071.5 866.5,1072.5 866.5,1073.5 865.5,1074.5 865.5,1075.5 864.5,1076.5 866.5,1077.5 865.5,1077.5 865.5,1078.5 864.5,1079.5 864.5,1080.5 864.5,1081.5 864.5,1082.5 864.5,1083.5 864.5,1084.5 864.5,1084.5 863.5,1085.5 864.5,1086.5 863.5,1087.5 862.5,1088.5 863.5,1089.5 863.5,1090.5 862.5,1090.5 863.5,1091.5 863.5,1092.5 862.5,1093.5 862.5,1094.5 863.5,1095.5 863.5,1096.5 862.5,1097.5 861.5,1097.5 861.5,1098.5 860.5,1099.5 860.5,1100.5 859.5,1101.5 858.5,1101.5 859.5,1102.5 858.5,1103.5 856.5,1104.5 852.5,1105.5 850.5,1105.5 848.5,1106.5 844.5,1107.5 841.5,1108.5 839.5,1109.5 836.5,1110.5 835.5,1110.5 835.5,1111.5 834.5,1112.5 833.5,1113.5 832.5,1114.5 832.5,1114.5 831.5,1115.5 831.5,1116.5 830.5,1117.5 830.5,1118.5 830.5,1118.5 829.5,1119.5 828.5,1120.5 828.5,1121.5 828.5,1122.5 828.5,1123.5 827.5,1123.5 827.5,1124.5 827.5,1125.5 827.5,1126.5 826.5,1127.5 826.5,1127.5 826.5,1128.5 825.5,1129.5 826.5,1130.5 826.5,1131.5 825.5,1131.5 826.5,1132.5 826.5,1133.5 824.5,1134.5 826.5,1135.5 826.5,1136.5 826.5,1136.5 825.5,1137.5 825.5,1138.5 825.5,1139.5 825.5,1140.5 825.5,1140.5 825.5,1141.5 825.5,1142.5 825.5,1143.5 825.5,1143.5 826.5,1144.5 826.5,1145.5 826.5,1146.5 826.5,1147.5 826.5,1148.5 826.5,1149.5 826.5,1150.5 827.5,1150.5 827.5,1155.5 826.5,1161.5 826.5,1164.5 828.5,1166.5 828.5,1169.5 828.5,1173.5 826.5,1177.5 826.5,1181.5 825.5,1183.5 825.5,1186.5 826.5,1189.5 827.5,1193.5 827.5,1193.5 828.5,1200.5 826.5,1204.5 829.5,1209.5 829.5,1214.5 830.5,1218.5 831.5,1221.5 831.5,1223.5 833.5,1230.5 832.5,1235.5 832.5,1241.5 833.5,1247.5 833.5,1256.5 833.5,1265.5 833.5,1271.5 834.5,1278.5 834.5,1285.5 834.5,1290.5 835.5,1296.5 835.5,1302.5 835.5,1310.5 835.5,1318.5 836.5,1326.5 836.5,1333.5 836.5,1339.5 836.5,1346.5 836.5,1352.5 836.5,1359.5 836.5,1365.5 836.5,1373.5 837.5,1381.5 837.5,1389.5 837.5,1396.5 838.5,1403.5 838.5,1410.5 838.5,1417.5 838.5,1424.5 839.5,1432.5 839.5,1439.5 839.5,1446.5 839.5,1454.5 839.5,1461.5 839.5,1469.5 839.5,1476.5 839.5,1484.5 840.5,1491.5 840.5,1498.5 840.5,1505.5"/>
<circle cx="886.5" cy="646.6" r="4.17" fill="#ff0000" stroke="#ff0000" stroke-width="1.39"/>
<circle cx="882.7" cy="691.5" r="4.17" fill="#ff0000" stroke="#ff0000" stroke-width="1.39"/>
<circle cx="788.2" cy="701.5" r="4.17" fill="#ff0000" stroke="#ff0000" stroke-width="1.39"/>
<circle cx="843.9" cy="1114.2" r="4.17" fill="#ff0000" stroke="#ff0000" stroke-width="1.39"/>
</g>
<g clip-path="url(#kr1c3)">
<polyline fill="none" stroke="#1f77b4" stroke-width="2.08" stroke-linejoin="round" points="1021.4,34.7 1020.9,42.0 1020.4,47.3 1017.1,48.2 1020.4,49.1 1019.4,50.7 1019.6,51.0 1020.6,51.9 1018.7,53.9 1019.6,56.8 1019.1,59.7 1017.7,61.5 1019.1,63.2 1018.2,65.6 1015.3,66.4 1021.6,67.3 1018.7,69.1 1019.6,71.4 1018.2,74.9 1019.6,76.0 1018.7,80.7 1019.0,83.6 1017.7,86.5 1021.6,88.8 1017.7,90.6 1019.1,92.3 1014.8,93.0 1018.2,94.4 1034.5,96.1"/>
<polyline fill="none" stroke="#1f77b4" stroke-width="2.08" stroke-linejoin="round" points="1028.3,98.4 1044.7,99.6"/>
<polyline fill="none" stroke="#1f77b4" stroke-width="2.08" stroke-linejoin="round" points="1052.8,101.9 1050.4,103.4 1057.7,105.1 1060.5,108.0 1064.4,108.6 1063.4,110.7 1068.2,111.0 1075.1,111.5 1080.7,114.8 1086.8,115.6 1092.3,118.4 1099.9,119.3 1110.9,122.7 1119.2,123.5 1124.0,125.2 1126.7,128.5"/>
<polyline fill="none" stroke="#1f77b4" stroke-width="2.08" stroke-linejoin="round" points="1129.5,131.0 1127.6,132.9 1135.6,133.9 1136.3,135.6 1145.3,137.9 1152.1,139.3 1157.7,141.4 1164.5,142.0 1172.1,142.2 1174.1,144.7 1184.4,148.0 1179.6,149.7 1188.6,150.5 1192.0,154.3 1197.5,155.5 1197.5,159.7 1201.0,160.8 1214.0,161.8 1209.2,162.2 1210.6,165.5 1217.5,167.2 1212.0,168.6"/>
<polyline fill="none" stroke="#1f77b4" stroke-width="2.08" stroke-linejoin="round" points="1221.6,171.3 1218.8,173.0 1224.3,173.8"/>
<polyline fill="none" stroke="#1f77b4" stroke-width="2.08" stroke-linejoin="round" points="1229.5,176.0 1229.9,177.5 1225.9,178.8 1231.9,179.6 1238.2,180.2 1244.9,182.4 1249.9,184.7 1252.4,187.1 1256.3,187.8 1256.9,190.5 1260.8,192.4 1258.2,193.2 1261.4,196.3 1262.7,199.4 1266.6,203.7 1271.1,208.0"/>
<polyline fill="none" stroke="#1f77b4" stroke-width="2.08" stroke-linejoin="round" points="1271.7,210.3 1274.3,212.6 1275.5,216.1 1278.1,221.1 1279.4,225.8 1283.2,231.2 1286.5,235.5 1290.3,235.9 1290.9,237.8 1289.7,239.7 1290.3,245.2 1292.8,250.6 1292.8,252.5 1298.6,253.7 1294.8,254.1 1298.0,257.6 1301.2,261.7 1304.5,263.1 1305.2,267.5 1307.8,274.3 1310.4,277.1 1311.1,281.9 1312.5,285.1 1312.2,291.9 1315.1,295.6 1317.8,296.3 1315.7,298.8 1318.3,306.3 1321.0,307.9 1323.1,317.1 1325.3,322.7 1325.0,325.2 1328.4,329.5 1327.7,331.2 1331.6,331.9 1328.9,333.6 1331.0,334.4 1328.9,336.3 1334.9,337.6 1340.0,338.9"/>
<polyline fill="none" stroke="#1f77b4" stroke-width="2.08" stroke-linejoin="round" points="1331.0,341.2 1329.6,342.7 1332.3,343.6 1329.9,345.1 1331.6,349.2 1331.0,352.4 1333.0,354.8 1333.3,360.0 1334.2,365.4 1334.8,370.0 1336.8,385.0 1339.3,398.0 1340.8,410.0 1342.8,425.0 1344.8,440.0 1346.3,452.5 1347.5,475.0 1349.1,497.5 1350.3,520.0 1351.4,542.5 1352.5,559.0 1352.8,567.0"/>
<polyline fill="none" stroke="none" marker-start="url(#mt)" marker-mid="url(#mt)" marker-end="url(#mt)" points="1022.5,34.5 1021.5,35.5 1021.5,35.5 1021.5,36.5 1021.5,36.5 1021.5,37.5 1021.5,37.5 1021.5,38.5 1021.5,38.5 1021.5,39.5 1021.5,39.5 1021.5,40.5 1021.5,40.5 1021.5,41.5 1021.5,41.5 1021.5,42.5 1021.5,42.5 1021.5,42.5 1021.5,43.5 1021.5,43.5 1021.5,44.5 1021.5,44.5 1021.5,45.5 1021.5,45.5 1021.5,46.5 1020.5,46.5 1020.5,47.5 1019.5,47.5 1017.5,48.5 1019.5,48.5 1020.5,49.5 1020.5,49.5 1020.5,50.5 1020.5,50.5 1020.5,51.5 1020.5,51.5 1021.5,51.5 1020.5,52.5 1020.5,52.5 1019.5,53.5 1019.5,53.5 1019.5,54.5 1019.5,54.5 1019.5,55.5 1019.5,55.5 1020.5,56.5 1020.5,56.5 1020.5,57.5 1020.5,57.5 1019.5,58.5 1019.5,58.5 1019.5,59.5 1019.5,59.5 1019.5,60.5 1019.5,60.5 1018.5,61.5 1018.5,61.5 1018.5,61.5 1019.5,62.5 1019.5,62.5 1019.5,63.5 1019.5,63.5 1019.5,64.5 1019.5,64.5 1018.5,65.5 1018.5,65.5 1017.5,66.5 1015.5,66.5 1019.5,66.5 1022.5,67.5 1021.5,67.5 1020.5,68.5 1019.5,68.5 1019.5,69.5 1019.5,69.5 1019.5,69.5 1019.5,70.5 1020.5,70.5 1020.5,71.5 1020.5,71.5 1019.5,72.5 1019.5,72.5 1019.5,73.5 1019.5,73.5 1018.5,74.5 1018.5,74.5 1019.5,75.5 1020.5,76.5 1020.5,76.5 1020.5,76.5 1019.5,77.5 1019.5,77.5 1019.5,78.5 1019.5,78.5 1019.5,79.5 1019.5,79.5 1019.5,80.5 1019.5,80.5 1019.5,81.5 1019.5,81.5 1019.5,82.5 1019.5,82.5 1019.5,83.5 1019.5,83.5 1019.5,84.5 1019.5,84.5 1018.5,85.5 1018.5,85.5 1018.5,86.5 1018.5,86.5 1019.5,86.5 1019.5,87.5 1020.5,87.5 1021.5,88.5 1022.5,88.5 1021.5,89.5 1020.5,89.5 1019.5,90.5 1018.5,90.5 1018.5,91.5 1019.5,91.5 1019.5,91.5 1019.5,92.5 1019.5,92.5 1019.5,93.5 1019.5,93.5 1018.5,94.5 1022.5,94.5 1026.5,95.5 1031.5,95.5 1035.5,96.5 1036.5,96.5 1038.5,97.5 1039.5,97.5 1041.5,98.5 1042.5,98.5 1044.5,99.5 1045.5,99.5 1047.5,99.5 1048.5,100.5 1050.5,100.5 1051.5,101.5 1053.5,101.5 1052.5,102.5 1051.5,102.5 1051.5,103.5 1052.5,103.5 1054.5,104.5 1056.5,104.5 1058.5,105.5 1058.5,105.5 1059.5,106.5 1059.5,106.5 1060.5,107.5 1060.5,107.5 1061.5,108.5 1064.5,108.5 1064.5,109.5 1064.5,109.5 1064.5,110.5 1064.5,110.5 1068.5,111.5 1075.5,111.5 1076.5,111.5 1077.5,112.5 1078.5,112.5 1078.5,113.5 1079.5,113.5 1080.5,114.5 1081.5,114.5 1084.5,115.5 1087.5,115.5 1088.5,116.5 1089.5,116.5 1090.5,116.5 1091.5,117.5 1091.5,117.5 1092.5,118.5 1096.5,118.5 1100.5,119.5 1102.5,119.5 1103.5,120.5 1105.5,120.5 1106.5,121.5 1108.5,121.5 1109.5,122.5 1111.5,122.5 1115.5,123.5 1119.5,123.5 1121.5,124.5 1122.5,124.5 1124.5,125.5 1124.5,125.5 1125.5,126.5 1125.5,126.5 1126.5,127.5 1126.5,127.5 1126.5,128.5 1127.5,128.5 1127.5,128.5 1128.5,129.5 1128.5,129.5 1129.5,130.5 1130.5,130.5 1129.5,131.5 1129.5,131.5 1128.5,132.5 1128.5,132.5 1132.5,133.5 1136.5,133.5 1136.5,134.5 1136.5,135.5 1136.5,135.5 1138.5,136.5 1140.5,136.5 1142.5,136.5 1144.5,137.5 1145.5,137.5 1148.5,138.5 1150.5,138.5 1152.5,139.5 1154.5,139.5 1155.5,140.5 1156.5,140.5 1158.5,141.5 1165.5,142.5 1172.5,142.5 1173.5,142.5 1173.5,143.5 1173.5,143.5 1174.5,144.5 1174.5,144.5 1176.5,145.5 1177.5,145.5 1179.5,146.5 1180.5,146.5 1182.5,147.5 1183.5,147.5 1185.5,148.5 1183.5,148.5 1181.5,149.5 1180.5,149.5 1184.5,150.5 1189.5,150.5 1189.5,150.5 1190.5,151.5 1190.5,151.5 1190.5,152.5 1191.5,152.5 1191.5,153.5 1192.5,153.5 1192.5,154.5 1194.5,154.5 1196.5,155.5 1198.5,155.5 1198.5,156.5 1198.5,156.5 1198.5,157.5 1198.5,157.5 1198.5,158.5 1198.5,158.5 1198.5,159.5 1198.5,159.5 1199.5,160.5 1201.5,160.5 1208.5,161.5 1214.5,161.5 1209.5,162.5 1209.5,162.5 1210.5,163.5 1210.5,163.5 1210.5,164.5 1210.5,164.5 1211.5,165.5 1211.5,165.5 1213.5,166.5 1215.5,166.5 1218.5,167.5 1216.5,167.5 1214.5,168.5 1212.5,168.5 1214.5,169.5 1216.5,169.5 1218.5,170.5 1220.5,170.5 1222.5,171.5 1221.5,171.5 1220.5,172.5 1219.5,172.5 1222.5,173.5 1224.5,173.5 1225.5,174.5 1226.5,174.5 1228.5,175.5 1229.5,175.5 1230.5,176.5 1230.5,176.5 1230.5,177.5 1230.5,177.5 1228.5,178.5 1226.5,178.5 1229.5,179.5 1232.5,179.5 1238.5,180.5 1240.5,180.5 1241.5,181.5 1242.5,181.5 1244.5,181.5 1245.5,182.5 1246.5,182.5 1247.5,183.5 1248.5,183.5 1249.5,184.5 1250.5,184.5 1250.5,185.5 1251.5,185.5 1251.5,186.5 1252.5,186.5 1253.5,187.5 1256.5,187.5 1256.5,188.5 1257.5,188.5 1257.5,189.5 1257.5,189.5 1257.5,190.5 1257.5,190.5 1258.5,190.5 1259.5,191.5 1260.5,191.5 1261.5,192.5 1260.5,192.5 1258.5,193.5 1259.5,193.5 1259.5,194.5 1260.5,194.5 1260.5,195.5 1261.5,195.5 1262.5,196.5 1262.5,196.5 1262.5,197.5 1262.5,197.5 1262.5,198.5 1263.5,198.5 1263.5,199.5 1263.5,199.5 1264.5,200.5 1264.5,200.5 1265.5,201.5 1265.5,201.5 1265.5,202.5 1266.5,202.5 1266.5,203.5 1267.5,203.5 1267.5,204.5 1268.5,204.5 1268.5,205.5 1269.5,205.5 1269.5,206.5 1270.5,206.5 1270.5,207.5 1271.5,207.5 1271.5,207.5 1271.5,208.5 1271.5,208.5 1272.5,209.5 1272.5,209.5 1272.5,210.5 1272.5,210.5 1273.5,211.5 1273.5,211.5 1274.5,212.5 1274.5,212.5 1275.5,213.5 1275.5,213.5 1275.5,214.5 1275.5,214.5 1275.5,215.5 1275.5,215.5 1276.5,216.5 1276.5,216.5 1276.5,217.5 1276.5,217.5 1277.5,218.5 1277.5,218.5 1277.5,219.5 1277.5,219.5 1278.5,220.5 1278.5,220.5 1278.5,221.5 1278.5,221.5 1278.5,222.5 1279.5,222.5 1279.5,222.5 1279.5,223.5 1279.5,223.5 1279.5,224.5 1279.5,224.5 1279.5,225.5 1279.5,225.5 1280.5,226.5 1280.5,226.5 1281.5,227.5 1281.5,227.5 1281.5,228.5 1282.5,228.5 1282.5,229.5 1282.5,229.5 1283.5,230.5 1283.5,230.5 1283.5,231.5 1284.5,231.5 1284.5,232.5 1284.5,232.5 1285.5,233.5 1285.5,233.5 1285.5,234.5 1286.5,234.5 1286.5,235.5 1287.5,235.5 1290.5,235.5 1291.5,236.5 1291.5,236.5 1291.5,237.5 1291.5,237.5 1291.5,238.5 1290.5,238.5 1290.5,239.5 1290.5,239.5 1290.5,240.5 1290.5,240.5 1290.5,241.5 1290.5,241.5 1290.5,242.5 1290.5,242.5 1290.5,243.5 1290.5,243.5 1290.5,244.5 1290.5,244.5 1290.5,245.5 1291.5,245.5 1291.5,246.5 1291.5,246.5 1291.5,247.5 1292.5,247.5 1292.5,248.5 1292.5,248.5 1292.5,249.5 1292.5,249.5 1293.5,250.5 1293.5,250.5 1293.5,251.5 1293.5,251.5 1293.5,252.5 1293.5,252.5 1296.5,253.5 1299.5,253.5 1295.5,254.5 1295.5,254.5 1296.5,255.5 1296.5,255.5 1297.5,256.5 1297.5,256.5 1298.5,257.5 1298.5,257.5 1299.5,258.5 1299.5,258.5 1299.5,259.5 1300.5,259.5 1300.5,260.5 1301.5,260.5 1301.5,261.5 1301.5,261.5 1302.5,262.5 1303.5,262.5 1305.5,263.5 1305.5,263.5 1305.5,264.5 1305.5,264.5 1305.5,265.5 1305.5,265.5 1305.5,266.5 1305.5,266.5 1305.5,267.5 1305.5,267.5 1305.5,267.5 1306.5,268.5 1306.5,268.5 1306.5,269.5 1306.5,269.5 1306.5,270.5 1307.5,270.5 1307.5,271.5 1307.5,271.5 1307.5,272.5 1307.5,272.5 1307.5,273.5 1308.5,273.5 1308.5,274.5 1308.5,274.5 1309.5,275.5 1309.5,275.5 1310.5,276.5 1310.5,276.5 1311.5,277.5 1311.5,277.5 1311.5,278.5 1311.5,278.5 1311.5,279.5 1311.5,279.5 1311.5,280.5 1311.5,280.5 1311.5,280.5 1311.5,281.5 1311.5,281.5 1311.5,282.5 1312.5,282.5 1312.5,283.5 1312.5,283.5 1312.5,284.5 1312.5,284.5 1313.5,285.5 1313.5,285.5 1313.5,286.5 1313.5,286.5 1312.5,287.5 1312.5,287.5 1312.5,288.5 1312.5,288.5 1312.5,289.5 1312.5,289.5 1312.5,289.5 1312.5,290.5 1312.5,290.5 1312.5,291.5 1312.5,291.5 1313.5,292.5 1313.5,292.5 1314.5,293.5 1314.5,294.5 1314.5,294.5 1315.5,295.5 1315.5,295.5 1317.5,295.5 1318.5,296.5 1317.5,296.5 1317.5,297.5 1317.5,297.5 1316.5,298.5 1316.5,298.5 1316.5,299.5 1316.5,299.5 1316.5,300.5 1317.5,300.5 1317.5,301.5 1317.5,301.5 1317.5,302.5 1317.5,302.5 1317.5,303.5 1318.5,303.5 1318.5,304.5 1318.5,304.5 1318.5,305.5 1318.5,305.5 1318.5,306.5 1319.5,306.5 1320.5,307.5 1321.5,307.5 1321.5,308.5 1321.5,308.5 1321.5,309.5 1322.5,309.5 1322.5,310.5 1322.5,310.5 1322.5,311.5 1322.5,311.5 1322.5,312.5 1322.5,312.5 1322.5,313.5 1322.5,313.5 1323.5,314.5 1323.5,314.5 1323.5,315.5 1323.5,315.5 1323.5,316.5 1323.5,316.5 1323.5,317.5 1323.5,317.5 1324.5,318.5 1324.5,318.5 1324.5,319.5 1324.5,319.5 1324.5,320.5 1325.5,320.5 1325.5,321.5 1325.5,321.5 1325.5,322.5 1325.5,322.5 1325.5,323.5 1325.5,323.5 1325.5,324.5 1325.5,324.5 1325.5,325.5 1325.5,325.5 1326.5,326.5 1326.5,326.5 1327.5,327.5 1327.5,327.5 1327.5,328.5 1328.5,328.5 1328.5,329.5 1328.5,329.5 1328.5,330.5 1328.5,330.5 1328.5,331.5 1330.5,331.5 1332.5,331.5 1331.5,332.5 1330.5,333.5 1329.5,333.5 1330.5,333.5 1331.5,334.5 1331.5,334.5 1330.5,335.5 1330.5,335.5 1329.5,336.5 1332.5,336.5 1335.5,337.5 1334.5,338.5 1334.5,338.5 1333.5,339.5 1333.5,339.5 1332.5,340.5 1332.5,340.5 1331.5,341.5 1331.5,341.5 1330.5,342.5 1330.5,342.5 1331.5,343.5 1332.5,343.5 1332.5,344.5 1331.5,344.5 1330.5,345.5 1330.5,345.5 1330.5,346.5 1331.5,346.5 1331.5,347.5 1331.5,347.5 1331.5,348.5 1332.5,348.5 1332.5,349.5 1332.5,349.5 1332.5,350.5 1331.5,350.5 1331.5,350.5 1331.5,351.5 1331.5,351.5 1331.5,352.5 1331.5,352.5 1332.5,353.5 1332.5,353.5 1333.5,354.5 1333.5,354.5 1333.5,355.5 1333.5,355.5 1333.5,356.5 1333.5,356.5 1333.5,357.5 1333.5,357.5 1333.5,358.5 1333.5,358.5 1333.5,359.5 1333.5,359.5 1333.5,360.5 1333.5,360.5 1333.5,360.5 1333.5,361.5 1333.5,361.5 1333.5,362.5 1333.5,362.5 1333.5,363.5 1333.5,363.5 1333.5,364.5 1334.5,364.5 1334.5,365.5 1333.5,370.5 1334.5,373.5 1335.5,377.5 1335.5,381.5 1336.5,385.5 1336.5,389.5 1337.5,393.5 1338.5,398.5 1339.5,402.5 1339.5,406.5 1340.5,410.5 1340.5,413.5 1340.5,417.5 1341.5,421.5 1341.5,425.5 1342.5,428.5 1343.5,432.5 1343.5,436.5 1344.5,440.5 1344.5,444.5 1344.5,448.5 1345.5,452.5 1345.5,456.5 1345.5,460.5 1346.5,463.5 1346.5,467.5 1346.5,471.5 1346.5,475.5 1346.5,478.5 1347.5,482.5 1347.5,486.5 1347.5,490.5 1348.5,493.5 1348.5,497.5 1348.5,501.5 1348.5,504.5 1348.5,508.5 1349.5,512.5 1349.5,516.5 1349.5,520.5 1349.5,523.5 1349.5,527.5 1350.5,531.5 1350.5,535.5 1350.5,538.5 1350.5,542.5 1350.5,546.5 1351.5,550.5 1351.5,554.5 1351.5,559.5 1351.5,563.5 1352.5,567.5"/>
</g>
<g clip-path="url(#kr2c3)">
<polyline fill="none" stroke="#1f77b4" stroke-width="2.08" stroke-linejoin="round" points="1019.5,619.0 1020.5,620.5 1018.5,624.0 1019.5,629.0 1019.0,634.0 1017.5,637.0 1019.0,640.0 1018.0,644.0 1015.0,645.5 1021.5,647.0 1018.5,650.0 1019.5,654.0 1018.0,660.0 1019.5,662.0 1018.5,670.0 1018.8,675.0 1017.5,680.0 1021.5,684.0 1017.5,687.0 1019.0,690.0 1014.5,691.2 1018.0,693.5 1035.0,696.5"/>
<polyline fill="none" stroke="#1f77b4" stroke-width="2.08" stroke-linejoin="round" points="1028.5,700.5 1045.5,702.5"/>
<polyline fill="none" stroke="#1f77b4" stroke-width="2.08" stroke-linejoin="round" points="1054.0,706.5 1051.5,709.0 1059.0,712.0 1062.0,717.0 1066.0,718.0 1065.0,721.5 1070.0,722.1 1077.1,722.9 1082.9,728.6 1089.3,730.0 1095.0,734.7 1102.9,736.4 1114.3,742.1 1122.9,743.6 1127.9,746.4 1130.7,752.1"/>
<polyline fill="none" stroke="#1f77b4" stroke-width="2.08" stroke-linejoin="round" points="1133.6,756.4 1131.7,759.7 1140.0,761.4 1140.7,764.3 1150.0,768.3 1157.1,770.7 1162.9,774.3 1170.0,775.4 1177.9,775.7 1180.0,780.0 1190.7,785.7 1185.7,788.6 1195.0,790.0 1198.6,796.4 1204.3,798.6 1204.3,805.7 1207.9,807.6 1221.4,809.3 1216.4,810.0 1217.9,815.7 1225.0,818.6 1219.3,821.1"/>
<polyline fill="none" stroke="#1f77b4" stroke-width="2.08" stroke-linejoin="round" points="1229.3,825.7 1226.4,828.6 1232.1,830.0"/>
<polyline fill="none" stroke="#1f77b4" stroke-width="2.08" stroke-linejoin="round" points="1237.5,833.8 1237.9,836.4 1233.8,838.5 1240.0,840.0 1246.5,841.0 1253.5,844.8 1258.7,848.7 1261.3,852.9 1265.3,854.0 1266.0,858.7 1270.0,862.0 1267.3,863.3 1270.7,868.7 1272.0,874.0 1276.0,881.3 1280.7,888.7"/>
<polyline fill="none" stroke="#1f77b4" stroke-width="2.08" stroke-linejoin="round" points="1281.3,892.7 1284.0,896.7 1285.3,902.7 1288.0,911.3 1289.3,919.3 1293.3,928.7 1296.7,936.0 1300.7,936.7 1301.3,940.0 1300.0,943.3 1300.7,952.7 1303.3,962.0 1303.3,965.3 1309.3,967.3 1305.3,968.0 1308.7,974.0 1312.0,981.0 1315.4,983.4 1316.1,991.0 1318.8,1002.7 1321.6,1007.5 1322.3,1015.8 1323.7,1021.3 1323.4,1033.0 1326.4,1039.2 1329.2,1040.5 1327.1,1044.7 1329.8,1057.7 1332.6,1060.5 1334.7,1076.3 1337.0,1085.9 1336.7,1090.1 1340.2,1097.6 1339.5,1100.4 1343.6,1101.7 1340.8,1104.5 1342.9,1105.9 1340.8,1109.3 1347.0,1111.4 1352.3,1113.7"/>
<polyline fill="none" stroke="#1f77b4" stroke-width="2.08" stroke-linejoin="round" points="1342.9,1117.6 1341.5,1120.3 1344.3,1121.7 1341.8,1124.4 1343.6,1131.3 1342.9,1136.8 1345.0,1141.0 1345.5,1146.0"/>
<polyline fill="none" stroke="#bf00bf" stroke-width="2.08" stroke-linejoin="round" stroke-dasharray="7.7 3.33" points="1019.5,619.0 1020.5,620.5 1018.5,624.0 1019.5,629.0 1019.0,634.0 1017.5,637.0 1019.0,640.0 1018.0,644.0 1021.5,647.0 1018.5,650.0 1019.5,654.0 1018.0,660.0 1019.5,662.0 1018.5,670.0 1018.8,675.0 1017.5,680.0 1021.5,684.0 1017.5,687.0 1019.0,690.0 1018.0,693.5 1035.0,696.5"/>
<polyline fill="none" stroke="#bf00bf" stroke-width="2.08" stroke-linejoin="round" stroke-dasharray="7.7 3.33" points="1042.1,702.1 1045.5,702.5"/>
<polyline fill="none" stroke="#bf00bf" stroke-width="2.08" stroke-linejoin="round" stroke-dasharray="7.7 3.33" points="1054.0,706.5 1051.5,709.0 1059.0,712.0 1062.0,717.0 1066.0,718.0 1065.0,721.5 1070.0,722.1 1077.1,722.9 1082.9,728.6 1089.3,730.0 1095.0,734.7 1102.9,736.4 1114.3,742.1 1122.9,743.6 1127.9,746.4 1130.7,752.1"/>
<polyline fill="none" stroke="#bf00bf" stroke-width="2.08" stroke-linejoin="round" stroke-dasharray="7.7 3.33" points="1133.6,756.4 1131.7,759.7 1140.0,761.4 1140.7,764.3 1150.0,768.3 1157.1,770.7 1162.9,774.3 1170.0,775.4 1177.9,775.7 1180.0,780.0 1190.7,785.7 1185.7,788.6 1195.0,790.0 1198.6,796.4 1204.3,798.6 1204.3,805.7 1207.9,807.6 1221.4,809.3 1216.4,810.0 1217.9,815.7 1225.0,818.6 1219.3,821.1"/>
<polyline fill="none" stroke="#bf00bf" stroke-width="2.08" stroke-linejoin="round" stroke-dasharray="7.7 3.33" points="1229.3,825.7 1226.4,828.6 1232.1,830.0"/>
<polyline fill="none" stroke="#bf00bf" stroke-width="2.08" stroke-linejoin="round" stroke-dasharray="7.7 3.33" points="1237.5,833.8 1237.9,836.4 1233.8,838.5 1240.0,840.0 1246.5,841.0 1253.5,844.8 1258.7,848.7 1261.3,852.9 1265.3,854.0 1266.0,858.7 1270.0,862.0 1267.3,863.3 1270.7,868.7 1272.0,874.0 1276.0,881.3 1280.7,888.7"/>
<polyline fill="none" stroke="#bf00bf" stroke-width="2.08" stroke-linejoin="round" stroke-dasharray="7.7 3.33" points="1281.3,892.7 1284.0,896.7 1285.3,902.7 1288.0,911.3 1289.3,919.3 1293.3,928.7 1296.7,936.0 1300.7,936.7 1301.3,940.0 1300.0,943.3 1300.7,952.7 1303.3,962.0 1303.3,965.3 1309.3,967.3 1305.3,968.0 1308.7,974.0 1312.0,981.0 1315.4,983.4 1316.1,991.0 1318.8,1002.7 1321.6,1007.5 1322.3,1015.8 1323.7,1021.3 1323.4,1033.0 1326.4,1039.2 1329.2,1040.5 1327.1,1044.7 1329.8,1057.7 1332.6,1060.5 1334.7,1076.3 1337.0,1085.9 1336.7,1090.1 1340.2,1097.6 1339.5,1100.4 1343.6,1101.7 1340.8,1104.5 1342.9,1105.9 1340.8,1109.3 1347.0,1111.4"/>
<polyline fill="none" stroke="#bf00bf" stroke-width="2.08" stroke-linejoin="round" stroke-dasharray="7.7 3.33" points="1342.9,1117.6 1341.5,1120.3 1344.3,1121.7 1341.8,1124.4 1343.6,1131.3 1342.9,1136.8 1345.0,1141.0 1345.5,1146.0"/>
</g>
<path d="M112.5,559.5v4.86M167.5,559.5v4.86M223.5,559.5v4.86M278.5,559.5v4.86M333.5,559.5v4.86M389.5,559.5v4.86M444.5,559.5v4.86M71.5,35.5h-4.86M71.5,117.5h-4.86M71.5,198.5h-4.86M71.5,280.5h-4.86M71.5,362.5h-4.86M71.5,443.5h-4.86M71.5,525.5h-4.86" stroke="#000" stroke-width="1.11" fill="none"/>
<rect x="71.5" y="35.5" width="404.0" height="524.0" fill="none" stroke="#000" stroke-width="1.11"/>
<path d="M98.5,1142.5v4.86M156.5,1142.5v4.86M213.5,1142.5v4.86M271.5,1142.5v4.86M329.5,1142.5v4.86M386.5,1142.5v4.86M444.5,1142.5v4.86M71.5,662.5h-4.86M71.5,732.5h-4.86M71.5,802.5h-4.86M71.5,872.5h-4.86M71.5,943.5h-4.86M71.5,1013.5h-4.86M71.5,1083.5h-4.86" stroke="#000" stroke-width="1.11" fill="none"/>
<rect x="71.5" y="618.5" width="404.0" height="524.0" fill="none" stroke="#000" stroke-width="1.11"/>
<path d="M557.5,559.5v4.86M610.5,559.5v4.86M663.5,559.5v4.86M716.5,559.5v4.86M769.5,559.5v4.86M822.5,559.5v4.86M875.5,559.5v4.86M928.5,559.5v4.86M526.5,35.5h-4.86M526.5,117.5h-4.86M526.5,198.5h-4.86M526.5,280.5h-4.86M526.5,362.5h-4.86M526.5,443.5h-4.86M526.5,525.5h-4.86" stroke="#000" stroke-width="1.11" fill="none"/>
<rect x="526.5" y="35.5" width="404.0" height="524.0" fill="none" stroke="#000" stroke-width="1.11"/>
<path d="M557.5,1142.5v4.86M610.5,1142.5v4.86M663.5,1142.5v4.86M716.5,1142.5v4.86M769.5,1142.5v4.86M822.5,1142.5v4.86M875.5,1142.5v4.86M928.5,1142.5v4.86M526.5,662.5h-4.86M526.5,732.5h-4.86M526.5,802.5h-4.86M526.5,872.5h-4.86M526.5,943.5h-4.86M526.5,1013.5h-4.86M526.5,1083.5h-4.86" stroke="#000" stroke-width="1.11" fill="none"/>
<rect x="526.5" y="618.5" width="404.0" height="524.0" fill="none" stroke="#000" stroke-width="1.11"/>
<path d="M1001.5,559.5v4.86M1046.5,559.5v4.86M1091.5,559.5v4.86M1136.5,559.5v4.86M1182.5,559.5v4.86M1227.5,559.5v4.86M1272.5,559.5v4.86M1317.5,559.5v4.86M1362.5,559.5v4.86M981.5,35.5h-4.86M981.5,117.5h-4.86M981.5,198.5h-4.86M981.5,280.5h-4.86M981.5,362.5h-4.86M981.5,443.5h-4.86M981.5,525.5h-4.86" stroke="#000" stroke-width="1.11" fill="none"/>
<rect x="981.5" y="35.5" width="404.0" height="524.0" fill="none" stroke="#000" stroke-width="1.11"/>
<path d="M1001.5,1142.5v4.86M1048.5,1142.5v4.86M1095.5,1142.5v4.86M1142.5,1142.5v4.86M1189.5,1142.5v4.86M1235.5,1142.5v4.86M1282.5,1142.5v4.86M1329.5,1142.5v4.86M1376.5,1142.5v4.86M981.5,662.5h-4.86M981.5,732.5h-4.86M981.5,802.5h-4.86M981.5,872.5h-4.86M981.5,943.5h-4.86M981.5,1013.5h-4.86M981.5,1083.5h-4.86" stroke="#000" stroke-width="1.11" fill="none"/>
<rect x="981.5" y="618.5" width="404.0" height="524.0" fill="none" stroke="#000" stroke-width="1.11"/>
<g style="will-change:transform">
<text transform="translate(107.70,580.00) scale(1.1088,1)" font-size="14.3">4</text>
<text transform="translate(162.70,580.00) scale(0.9828,1)" font-size="14.3">6</text>
<text transform="translate(218.70,580.00) scale(0.9828,1)" font-size="14.3">8</text>
<text transform="translate(269.70,580.00) scale(0.9954,1)" font-size="14.3">10</text>
<text transform="translate(325.70,580.00) scale(0.9954,1)" font-size="14.3">12</text>
<text transform="translate(380.70,580.00) scale(0.9954,1)" font-size="14.3">14</text>
<text transform="translate(435.70,580.00) scale(0.9954,1)" font-size="14.3">16</text>
<text transform="translate(52.70,41.00) scale(1.1088,1)" font-size="14.3">0</text>
<text transform="translate(35.70,123.00) scale(1.0385,1)" font-size="14.3">100</text>
<text transform="translate(35.70,204.00) scale(1.0804,1)" font-size="14.3">200</text>
<text transform="translate(35.70,286.00) scale(1.0385,1)" font-size="14.3">300</text>
<text transform="translate(34.70,368.00) scale(1.0804,1)" font-size="14.3">400</text>
<text transform="translate(35.70,449.00) scale(1.0385,1)" font-size="14.3">500</text>
<text transform="translate(34.70,531.00) scale(1.0804,1)" font-size="14.3">600</text>
<text transform="translate(267.70,600.00) scale(1.1235,1)" font-size="14.3">T</text>
<text transform="translate(26.66,328.50) rotate(-90) scale(1.0140,1)" font-size="14.3">Pressure</text>
<text y="27" font-size="17.1"><tspan x="192.10" textLength="71.97" lengthAdjust="spacingAndGlyphs">6903030</tspan> <tspan x="271.10" textLength="55.04" lengthAdjust="spacingAndGlyphs">Profile:</tspan> <tspan x="334.10" textLength="19.04" lengthAdjust="spacingAndGlyphs">85</tspan></text>
<text transform="translate(537.70,580.00) scale(1.0552,1)" font-size="14.3">33.50</text>
<text transform="translate(590.70,580.00) scale(1.0552,1)" font-size="14.3">33.75</text>
<text transform="translate(643.70,580.00) scale(1.0552,1)" font-size="14.3">34.00</text>
<text transform="translate(696.70,580.00) scale(1.0552,1)" font-size="14.3">34.25</text>
<text transform="translate(749.70,580.00) scale(1.0552,1)" font-size="14.3">34.50</text>
<text transform="translate(802.70,580.00) scale(1.0552,1)" font-size="14.3">34.75</text>
<text transform="translate(855.70,580.00) scale(1.0552,1)" font-size="14.3">35.00</text>
<text transform="translate(908.70,580.00) scale(1.0552,1)" font-size="14.3">35.25</text>
<text transform="translate(507.70,41.00) scale(1.1088,1)" font-size="14.3">0</text>
<text transform="translate(490.70,123.00) scale(1.0385,1)" font-size="14.3">100</text>
<text transform="translate(490.70,204.00) scale(1.0804,1)" font-size="14.3">200</text>
<text transform="translate(490.70,286.00) scale(1.0385,1)" font-size="14.3">300</text>
<text transform="translate(489.70,368.00) scale(1.0804,1)" font-size="14.3">400</text>
<text transform="translate(490.70,449.00) scale(1.0385,1)" font-size="14.3">500</text>
<text transform="translate(489.70,531.00) scale(1.0804,1)" font-size="14.3">600</text>
<text transform="translate(723.70,600.00) scale(0.9254,1)" font-size="14.3">S</text>
<text transform="translate(981.70,580.00) scale(1.0831,1)" font-size="14.3">25.75</text>
<text transform="translate(1026.70,580.00) scale(1.0831,1)" font-size="14.3">26.00</text>
<text transform="translate(1071.70,580.00) scale(1.0831,1)" font-size="14.3">26.25</text>
<text transform="translate(1116.70,580.00) scale(1.0831,1)" font-size="14.3">26.50</text>
<text transform="translate(1161.70,580.00) scale(1.0831,1)" font-size="14.3">26.75</text>
<text transform="translate(1206.70,580.00) scale(1.0831,1)" font-size="14.3">27.00</text>
<text transform="translate(1252.70,580.00) scale(1.0831,1)" font-size="14.3">27.25</text>
<text transform="translate(1297.70,580.00) scale(1.0831,1)" font-size="14.3">27.50</text>
<text transform="translate(1342.70,580.00) scale(1.0831,1)" font-size="14.3">27.75</text>
<text transform="translate(962.70,41.00) scale(1.1088,1)" font-size="14.3">0</text>
<text transform="translate(945.70,123.00) scale(1.0385,1)" font-size="14.3">100</text>
<text transform="translate(945.70,204.00) scale(1.0804,1)" font-size="14.3">200</text>
<text transform="translate(945.70,286.00) scale(1.0385,1)" font-size="14.3">300</text>
<text transform="translate(944.70,368.00) scale(1.0804,1)" font-size="14.3">400</text>
<text transform="translate(945.70,449.00) scale(1.0385,1)" font-size="14.3">500</text>
<text transform="translate(944.70,531.00) scale(1.0804,1)" font-size="14.3">600</text>
<text transform="translate(1159.70,600.00) scale(0.9297,1)" font-size="14.3">PDENS</text>
<text transform="translate(93.70,1163.00) scale(1.1088,1)" font-size="14.3">4</text>
<text transform="translate(151.70,1163.00) scale(0.9828,1)" font-size="14.3">6</text>
<text transform="translate(208.70,1163.00) scale(0.9828,1)" font-size="14.3">8</text>
<text transform="translate(262.70,1163.00) scale(0.9954,1)" font-size="14.3">10</text>
<text transform="translate(320.70,1163.00) scale(0.9954,1)" font-size="14.3">12</text>
<text transform="translate(378.70,1163.00) scale(0.9954,1)" font-size="14.3">14</text>
<text transform="translate(435.70,1163.00) scale(0.9954,1)" font-size="14.3">16</text>
<text transform="translate(43.70,668.00) scale(0.9954,1)" font-size="14.3">50</text>
<text transform="translate(35.70,738.00) scale(1.0385,1)" font-size="14.3">100</text>
<text transform="translate(35.70,808.00) scale(1.0385,1)" font-size="14.3">150</text>
<text transform="translate(35.70,878.00) scale(1.0804,1)" font-size="14.3">200</text>
<text transform="translate(35.70,949.00) scale(1.0804,1)" font-size="14.3">250</text>
<text transform="translate(35.70,1019.00) scale(1.0385,1)" font-size="14.3">300</text>
<text transform="translate(35.70,1089.00) scale(1.0385,1)" font-size="14.3">350</text>
<text transform="translate(267.70,1183.00) scale(1.1235,1)" font-size="14.3">T</text>
<text transform="translate(26.66,911.50) rotate(-90) scale(1.0140,1)" font-size="14.3">Pressure</text>
<text transform="translate(537.70,1163.00) scale(1.0552,1)" font-size="14.3">33.50</text>
<text transform="translate(590.70,1163.00) scale(1.0552,1)" font-size="14.3">33.75</text>
<text transform="translate(643.70,1163.00) scale(1.0552,1)" font-size="14.3">34.00</text>
<text transform="translate(696.70,1163.00) scale(1.0552,1)" font-size="14.3">34.25</text>
<text transform="translate(749.70,1163.00) scale(1.0552,1)" font-size="14.3">34.50</text>
<text transform="translate(802.70,1163.00) scale(1.0552,1)" font-size="14.3">34.75</text>
<text transform="translate(855.70,1163.00) scale(1.0552,1)" font-size="14.3">35.00</text>
<text transform="translate(908.70,1163.00) scale(1.0552,1)" font-size="14.3">35.25</text>
<text transform="translate(498.70,668.00) scale(0.9954,1)" font-size="14.3">50</text>
<text transform="translate(490.70,738.00) scale(1.0385,1)" font-size="14.3">100</text>
<text transform="translate(490.70,808.00) scale(1.0385,1)" font-size="14.3">150</text>
<text transform="translate(490.70,878.00) scale(1.0804,1)" font-size="14.3">200</text>
<text transform="translate(490.70,949.00) scale(1.0804,1)" font-size="14.3">250</text>
<text transform="translate(490.70,1019.00) scale(1.0385,1)" font-size="14.3">300</text>
<text transform="translate(490.70,1089.00) scale(1.0385,1)" font-size="14.3">350</text>
<text transform="translate(723.70,1183.00) scale(0.9254,1)" font-size="14.3">S</text>
<text transform="translate(981.70,1163.00) scale(1.0831,1)" font-size="14.3">25.75</text>
<text transform="translate(1028.70,1163.00) scale(1.0831,1)" font-size="14.3">26.00</text>
<text transform="translate(1074.70,1163.00) scale(1.0831,1)" font-size="14.3">26.25</text>
<text transform="translate(1121.70,1163.00) scale(1.0831,1)" font-size="14.3">26.50</text>
<text transform="translate(1168.70,1163.00) scale(1.0831,1)" font-size="14.3">26.75</text>
<text transform="translate(1215.70,1163.00) scale(1.0831,1)" font-size="14.3">27.00</text>
<text transform="translate(1262.70,1163.00) scale(1.0831,1)" font-size="14.3">27.25</text>
<text transform="translate(1309.70,1163.00) scale(1.0831,1)" font-size="14.3">27.50</text>
<text transform="translate(1356.70,1163.00) scale(1.0831,1)" font-size="14.3">27.75</text>
<text transform="translate(953.70,668.00) scale(0.9954,1)" font-size="14.3">50</text>
<text transform="translate(945.70,738.00) scale(1.0385,1)" font-size="14.3">100</text>
<text transform="translate(945.70,808.00) scale(1.0385,1)" font-size="14.3">150</text>
<text transform="translate(945.70,878.00) scale(1.0804,1)" font-size="14.3">200</text>
<text transform="translate(945.70,949.00) scale(1.0804,1)" font-size="14.3">250</text>
<text transform="translate(945.70,1019.00) scale(1.0385,1)" font-size="14.3">300</text>
<text transform="translate(945.70,1089.00) scale(1.0385,1)" font-size="14.3">350</text>
<text transform="translate(1159.70,1183.00) scale(0.9297,1)" font-size="14.3">PDENS</text>
</g>
</svg>
</body></html>
